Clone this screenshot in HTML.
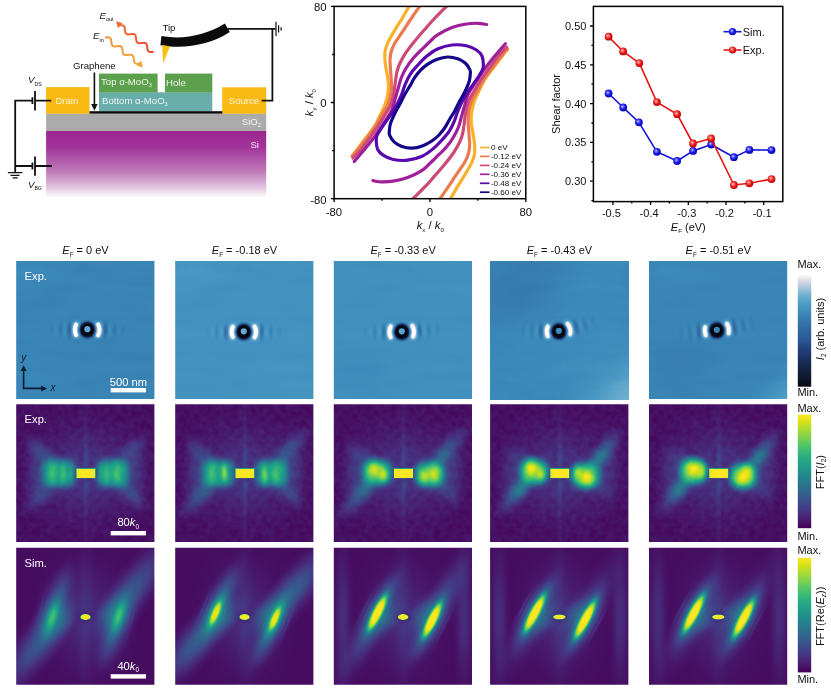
<!DOCTYPE html>
<html lang="en">
<head>
<meta charset="utf-8">
<title>Figure</title>
<style>
html,body{margin:0;padding:0;background:#fff;}
body{width:831px;height:693px;overflow:hidden;}
svg{display:block;font-family:"Liberation Sans",Arial,Helvetica,sans-serif;}
</style>
</head>
<body>
<svg width="831" height="693" viewBox="0 0 831 693">
<rect x="0" y="0" width="831" height="693" fill="#ffffff"/>
<defs>
<linearGradient id="siG" x1="0" y1="0" x2="0" y2="1">
<stop offset="0" stop-color="#9a2590"/><stop offset="0.25" stop-color="#a1349a"/><stop offset="0.6" stop-color="#be78b8"/><stop offset="0.85" stop-color="#e2c4df"/><stop offset="1" stop-color="#ffffff"/>
</linearGradient>
<linearGradient id="einG" gradientUnits="userSpaceOnUse" x1="106" y1="38" x2="142" y2="66">
<stop offset="0" stop-color="#f0953c"/><stop offset="1" stop-color="#f5a83a"/>
</linearGradient>
<linearGradient id="eoutG" gradientUnits="userSpaceOnUse" x1="153" y1="52" x2="117" y2="22">
<stop offset="0" stop-color="#f0432c"/><stop offset="1" stop-color="#f2703a"/>
</linearGradient>
</defs>
<rect x="46.1" y="130.6" width="220.1" height="67" fill="url(#siG)"/>
<rect x="46.1" y="113.4" width="220.1" height="17.4" fill="#ababab"/>
<rect x="46.1" y="87.1" width="43.4" height="26.6" fill="#f8b912"/>
<rect x="222.2" y="87.3" width="44" height="26.4" fill="#f8b912"/>
<rect x="99" y="92.3" width="113.3" height="19" fill="#69adab"/>
<rect x="99" y="73.6" width="58.6" height="18.9" fill="#5c9f4c"/>
<rect x="165" y="73.6" width="47.3" height="18.9" fill="#5c9f4c"/>
<rect x="89.5" y="111.2" width="132.8" height="2.4" fill="#0a0a0a"/>
<path d="M94.4 72.5V106" stroke="#111" stroke-width="1.6" fill="none"/>
<path d="M91.2 104L94.4 110.8L97.6 104Z" fill="#111"/>
<path d="M32.5 100.7H15.2V172.5M15.2 166H32.5M35 100.7H51.3M35 166H52" stroke="#111" stroke-width="1.8" fill="none"/>
<path d="M35 90.9V110.4M35 156.5V175.7" stroke="#111" stroke-width="1.8" fill="none"/>
<path d="M32.4 97.3V103.9M32.4 162.4V169.6" stroke="#111" stroke-width="1.8" fill="none"/>
<path d="M7.9 172.7H22.4M10.5 175.3H19.5M12.6 177.8H17.7" stroke="#111" stroke-width="1.2" fill="none"/>
<path d="M228 28.8H275.6M272.4 28.8V100.7H261.6" stroke="#111" stroke-width="1.8" fill="none"/>
<path d="M276 21.7V36.1M278.6 25.3V32.5M281.1 27.3V30.5" stroke="#111" stroke-width="1.2" fill="none"/>
<path d="M161.4 36.1C184 40 206 35 224.9 23.5L229.8 32.1C210 45 184 49.5 160.4 45.2Z" fill="#0a0a0a"/>
<path d="M162.2 44.8L169.9 46.6L163 63.6Z" fill="#f8c010"/>
<path d="M105.7 37.5L106.5 37.4L107.2 37.3L107.9 37.3L108.5 37.3L109.1 37.5L109.6 37.7L110.1 38.0L110.4 38.4L110.7 38.9L110.9 39.5L111.1 40.1L111.2 40.9L111.3 41.6L111.4 42.4L111.5 43.1L111.6 43.8L111.8 44.4L112.0 45.0L112.3 45.5L112.7 45.8L113.2 46.1L113.7 46.3L114.3 46.4L115.0 46.4L115.7 46.4L116.4 46.3L117.2 46.2L117.9 46.1L118.7 46.0L119.3 46.0L120.0 46.1L120.5 46.2L121.0 46.5L121.4 46.8L121.7 47.2L122.0 47.8L122.2 48.4L122.3 49.1L122.5 49.8L122.6 50.5L122.6 51.3L122.8 52.0L122.9 52.7L123.1 53.3L123.4 53.9L123.7 54.3L124.1 54.6L124.6 54.9L125.1 55.0L125.8 55.1L126.4 55.1L127.2 55.0L127.9 54.9L128.7 54.8L129.4 54.7L130.1 54.7L130.8 54.7L131.4 54.8L131.9 55.0L132.4 55.3L132.8 55.6L133.1 56.1L133.3 56.7L133.5 57.3L133.6 58.0L133.7 58.7L133.8 59.5L133.9 60.2L134.0 61.0L134.2 61.6L134.4 62.2L134.7 62.7L135.0 63.1L135.5 63.4L136.0 63.6L136.6 63.8L137.2 63.8L137.9 63.8L138.6 63.7L139.4 63.6" stroke="url(#einG)" stroke-width="2" fill="none" stroke-linecap="round"/>
<path d="M142.8 67.6L136.6 65.6L141.2 60.6Z" fill="#f5a030"/>
<path d="M152.8 51.8L152.0 51.9L151.3 52.0L150.6 52.0L150.0 51.9L149.4 51.8L148.9 51.6L148.5 51.3L148.1 50.9L147.8 50.4L147.6 49.8L147.5 49.1L147.3 48.4L147.3 47.7L147.2 46.9L147.1 46.2L147.0 45.5L146.8 44.8L146.6 44.3L146.3 43.8L145.9 43.4L145.4 43.1L144.9 42.9L144.3 42.8L143.6 42.8L142.9 42.9L142.2 42.9L141.4 43.0L140.7 43.1L139.9 43.2L139.3 43.2L138.6 43.1L138.1 43.0L137.6 42.7L137.2 42.4L136.9 41.9L136.6 41.4L136.4 40.8L136.3 40.1L136.2 39.4L136.1 38.6L136.0 37.8L135.9 37.1L135.8 36.4L135.6 35.8L135.3 35.3L135.0 34.8L134.6 34.5L134.1 34.2L133.6 34.1L132.9 34.0L132.3 34.0L131.5 34.1L130.8 34.2L130.0 34.3L129.3 34.3L128.6 34.4L127.9 34.4L127.3 34.3L126.8 34.1L126.3 33.8L125.9 33.4L125.6 32.9L125.4 32.4L125.2 31.7L125.1 31.0L125.0 30.3L124.9 29.5L124.9 28.8L124.7 28.1L124.6 27.4L124.4 26.8L124.1 26.3L123.7 25.9L123.3 25.6L122.8 25.4L122.2 25.3L121.6 25.2L120.9 25.2L120.2 25.3L119.4 25.4" stroke="url(#eoutG)" stroke-width="2" fill="none" stroke-linecap="round"/>
<path d="M116.2 21.2L122.6 23.2L117.8 28.2Z" fill="#f26a3a"/>
<text x="73" y="68.7" font-size="9.6" fill="#111" text-anchor="start" >Graphene</text>
<text x="162.4" y="31.4" font-size="9.6" fill="#111" text-anchor="start" >Tip</text>
<text x="99.6" y="18.9" font-size="9.6" fill="#111" text-anchor="start" ><tspan font-style="italic">E</tspan><tspan dy="2.2" font-size="5.5" font-style="normal">out</tspan></text>
<text x="93.1" y="39.4" font-size="9.6" fill="#111" text-anchor="start" ><tspan font-style="italic">E</tspan><tspan dy="2.2" font-size="5.5" font-style="normal">in</tspan></text>
<text x="28" y="83" font-size="9.6" fill="#111" text-anchor="start" ><tspan font-style="italic">V</tspan><tspan dy="2.6" font-size="5.2" font-style="normal">DS</tspan></text>
<text x="28" y="187.8" font-size="9.6" fill="#111" text-anchor="start" ><tspan font-style="italic">V</tspan><tspan dy="2.6" font-size="5.2" font-style="normal">BG</tspan></text>
<text x="55.4" y="103.8" font-size="9.6" fill="#fdf6dc" text-anchor="start" >Drain</text>
<text x="228.8" y="104" font-size="9.6" fill="#fdf6dc" text-anchor="start" >Source</text>
<text x="101" y="84.8" font-size="9.6" fill="#eef5ea" text-anchor="start" >Top α-MoO<tspan dy="2.2" font-size="5.5" font-style="normal">3</tspan></text>
<text x="166" y="86" font-size="9.6" fill="#eef5ea" text-anchor="start" >Hole</text>
<text x="102" y="103.6" font-size="9.6" fill="#eaf4f4" text-anchor="start" >Bottom α-MoO<tspan dy="2.2" font-size="5.5" font-style="normal">3</tspan></text>
<text x="241.8" y="124.6" font-size="9.6" fill="#f0f0f0" text-anchor="start" >SiO<tspan dy="2.2" font-size="5.5" font-style="normal">2</tspan></text>
<text x="250.4" y="148.4" font-size="9.6" fill="#f6e6f4" text-anchor="start" >Si</text>
<defs><clipPath id="cpC"><rect x="334.1" y="6.4" width="191.69999999999993" height="192.29999999999998"/></clipPath></defs>
<rect x="334.1" y="6.4" width="191.69999999999993" height="192.29999999999998" fill="#fff"/>
<g clip-path="url(#cpC)" fill="none" stroke-width="3.2" stroke-linecap="round" stroke-linejoin="round">
<path d="M410.5 4.0C410.0 4.8 409.1 6.4 407.6 8.9C406.2 11.4 404.0 15.4 401.8 19.0C399.6 22.6 396.9 26.6 394.6 30.5C392.3 34.4 389.7 38.7 388.1 42.1C386.5 45.5 385.7 47.6 385.2 50.7C384.7 53.8 384.8 57.4 385.0 60.8C385.2 64.2 385.9 67.3 386.5 70.9C387.1 74.5 388.1 78.9 388.3 82.5C388.6 86.1 388.5 89.0 388.0 92.6C387.5 96.2 386.4 100.6 385.2 104.1C384.0 107.6 382.8 109.7 381.0 113.4C379.2 117.1 376.9 122.3 374.4 126.4C371.8 130.5 368.6 134.2 365.7 138.0C362.8 141.8 359.4 146.5 357.1 149.5C354.8 152.5 352.9 154.9 352.0 156.0" stroke="#fbb02b"/>
<path d="M449.1 201.2C449.6 200.4 450.6 198.8 452.0 196.3C453.4 193.8 455.6 189.8 457.8 186.2C460.0 182.6 462.7 178.5 465.0 174.7C467.3 170.8 469.9 166.5 471.5 163.1C473.1 159.7 473.9 157.6 474.4 154.5C474.9 151.4 474.8 147.8 474.6 144.4C474.4 141.0 473.7 137.9 473.1 134.3C472.6 130.7 471.6 126.3 471.3 122.7C471.1 119.1 471.1 116.2 471.6 112.6C472.1 109.0 473.2 104.6 474.4 101.1C475.6 97.6 476.8 95.5 478.6 91.8C480.4 88.1 482.7 82.9 485.2 78.8C487.8 74.7 491.0 71.0 493.9 67.2C496.8 63.3 500.2 58.7 502.5 55.7C504.8 52.7 506.8 50.3 507.6 49.2" stroke="#fbb02b"/>
<path d="M421.3 4.0C420.8 4.7 420.0 5.9 418.4 8.2C416.8 10.4 414.4 13.8 411.9 17.5C409.4 21.2 406.2 26.2 403.3 30.5C400.4 34.8 396.7 39.9 394.6 43.5C392.6 47.1 391.8 49.3 391.0 52.2C390.2 55.1 390.1 57.7 390.0 60.8C389.9 63.9 390.4 67.3 390.6 70.9C390.8 74.5 391.3 78.9 391.4 82.5C391.5 86.1 391.6 89.0 391.0 92.6C390.4 96.2 389.5 100.6 388.1 104.1C386.7 107.6 384.8 109.8 382.7 113.4C380.6 117.1 378.2 121.9 375.6 126.0C373.0 130.1 369.9 134.1 367.0 138.0C364.1 141.9 360.4 146.4 358.0 149.5C355.6 152.6 353.2 155.2 352.3 156.3" stroke="#ec7a4f"/>
<path d="M438.3 201.2C438.8 200.5 439.6 199.2 441.2 197.0C442.8 194.8 445.2 191.4 447.7 187.7C450.2 184.0 453.4 179.0 456.3 174.7C459.2 170.4 462.9 165.3 465.0 161.7C467.1 158.1 467.8 155.9 468.6 153.0C469.4 150.1 469.5 147.5 469.6 144.4C469.7 141.3 469.2 137.9 469.0 134.3C468.8 130.7 468.3 126.3 468.2 122.7C468.1 119.1 468.1 116.2 468.6 112.6C469.2 109.0 470.1 104.6 471.5 101.1C472.9 97.6 474.8 95.4 476.9 91.8C479.0 88.1 481.4 83.3 484.0 79.2C486.6 75.1 489.7 71.1 492.6 67.2C495.5 63.3 499.2 58.7 501.6 55.7C504.1 52.6 506.4 50.0 507.3 48.9" stroke="#ec7a4f"/>
<path d="M449.0 4.0C448.3 4.7 447.3 5.7 444.8 8.2C442.3 10.7 437.1 15.8 434.0 19.0C430.9 22.2 429.3 24.2 426.4 27.6C423.4 31.0 419.7 35.1 416.3 39.2C412.9 43.3 409.0 48.1 406.2 52.2C403.4 56.3 401.3 60.3 399.7 63.7C398.1 67.1 397.5 69.3 396.8 72.4C396.1 75.5 395.8 79.1 395.3 82.5C394.8 85.9 394.6 89.0 393.9 92.6C393.2 96.2 392.4 100.5 391.0 104.1C389.6 107.7 387.6 110.4 385.5 114.0C383.4 117.6 381.1 121.6 378.5 125.5C375.9 129.4 372.9 133.5 370.0 137.5C367.1 141.5 363.8 146.1 361.0 149.5C358.2 152.9 354.3 156.6 353.0 158.0" stroke="#cb4a78"/>
<path d="M410.6 201.2C411.3 200.5 412.3 199.5 414.8 197.0C417.3 194.5 422.5 189.4 425.6 186.2C428.7 183.0 430.3 181.0 433.2 177.6C436.2 174.2 439.9 170.1 443.3 166.0C446.7 161.9 450.6 157.1 453.4 153.0C456.2 148.9 458.3 144.9 459.9 141.5C461.5 138.1 462.1 135.9 462.8 132.8C463.5 129.7 463.8 126.1 464.3 122.7C464.8 119.3 465.0 116.2 465.7 112.6C466.4 109.0 467.2 104.7 468.6 101.1C470.0 97.5 472.0 94.8 474.1 91.2C476.2 87.6 478.5 83.6 481.1 79.7C483.7 75.8 486.7 71.7 489.6 67.7C492.5 63.7 495.8 59.1 498.6 55.7C501.4 52.3 505.3 48.6 506.6 47.2" stroke="#cb4a78"/>
<path d="M486.6 24.5C485.2 24.3 481.4 23.4 478.0 23.3C474.6 23.2 470.7 23.3 466.4 24.0C462.1 24.7 456.8 25.8 452.0 27.6C447.2 29.4 441.2 32.6 437.5 34.9C433.8 37.2 432.3 39.4 430.0 41.5C427.7 43.6 426.3 45.0 423.5 47.8C420.7 50.5 416.3 54.6 413.4 58.0C410.5 61.4 408.2 64.6 406.2 68.0C404.1 71.4 402.4 74.8 401.1 78.2C399.8 81.6 399.2 84.9 398.2 88.3C397.2 91.7 396.4 94.7 395.3 98.4C394.2 102.1 393.5 106.5 391.7 110.5C389.9 114.5 387.1 118.0 384.5 122.1C381.9 126.2 378.9 130.8 375.8 135.1C372.7 139.4 369.3 143.7 365.7 148.1C362.1 152.5 356.1 159.3 354.2 161.5" stroke="#a01f9a"/>
<path d="M373.0 180.7C374.4 180.9 378.2 181.8 381.6 181.9C385.0 182.0 388.9 181.9 393.2 181.2C397.5 180.5 402.8 179.4 407.6 177.6C412.4 175.8 418.4 172.6 422.1 170.3C425.8 168.0 427.3 165.8 429.6 163.7C431.9 161.5 433.3 160.1 436.1 157.4C438.9 154.6 443.3 150.6 446.2 147.2C449.1 143.8 451.4 140.6 453.4 137.2C455.5 133.8 457.2 130.4 458.5 127.0C459.8 123.6 460.4 120.3 461.4 116.9C462.4 113.5 463.2 110.5 464.3 106.8C465.4 103.1 466.1 98.6 467.9 94.7C469.7 90.7 472.5 87.2 475.1 83.1C477.8 79.0 480.7 74.4 483.8 70.1C486.9 65.8 490.3 61.5 493.9 57.1C497.5 52.7 503.5 45.9 505.4 43.7" stroke="#a01f9a"/>
<path d="M376.2 141.0C376.1 138.7 376.1 137.7 377.0 135.5C377.9 133.3 379.9 130.5 381.6 127.9C383.3 125.3 385.3 122.4 387.0 120.0C388.7 117.6 390.0 116.0 391.7 113.4C393.4 110.8 395.3 107.7 397.0 104.5C398.7 101.3 400.4 97.4 401.8 94.0C403.2 90.6 403.9 87.3 405.4 83.9C406.8 80.5 408.4 76.9 410.5 73.8C412.6 70.7 415.1 68.1 417.7 65.2C420.3 62.3 423.1 59.2 426.4 56.5C429.7 53.8 433.2 50.9 437.5 49.0C441.8 47.1 447.2 45.5 452.0 45.0C456.8 44.5 462.3 44.9 466.4 45.7C470.5 46.5 473.9 48.3 476.5 50.0C479.1 51.7 480.9 53.6 482.0 56.0C483.1 58.4 483.3 61.9 483.4 64.2C483.5 66.5 483.5 67.5 482.6 69.7C481.7 71.9 479.7 74.7 478.0 77.3C476.3 79.9 474.3 82.8 472.6 85.2C470.9 87.6 469.6 89.2 467.9 91.8C466.2 94.4 464.3 97.5 462.6 100.7C460.9 103.9 459.2 107.8 457.8 111.2C456.4 114.6 455.7 117.9 454.2 121.3C452.8 124.7 451.2 128.3 449.1 131.4C447.1 134.5 444.6 137.1 441.9 140.0C439.3 142.9 436.5 146.0 433.2 148.7C429.9 151.4 426.4 154.3 422.1 156.2C417.8 158.1 412.4 159.6 407.6 160.2C402.8 160.8 397.3 160.3 393.2 159.5C389.1 158.7 385.7 156.9 383.1 155.2C380.5 153.5 378.8 151.6 377.6 149.2C376.5 146.8 376.3 143.3 376.2 141.0Z" stroke="#5a07ae"/>
<path d="M389.4 130.5C389.5 128.6 389.5 126.6 390.5 123.5C391.5 120.4 393.8 115.4 395.5 112.0C397.2 108.6 398.9 106.0 400.5 103.0C402.1 100.0 403.4 96.8 405.0 94.0C406.6 91.2 408.2 88.8 409.8 86.2C411.4 83.6 412.5 80.9 414.3 78.2C416.1 75.5 418.4 72.5 420.6 70.2C422.9 67.9 425.1 66.0 427.8 64.2C430.5 62.4 433.3 60.7 436.6 59.5C439.9 58.3 444.1 57.1 447.6 57.0C451.1 56.9 454.7 57.7 457.7 58.7C460.7 59.8 463.4 61.4 465.5 63.3C467.6 65.2 469.2 68.1 470.0 70.0C470.8 71.9 470.4 72.7 470.2 74.7C470.1 76.6 470.1 78.6 469.1 81.7C468.1 84.8 465.8 89.8 464.1 93.2C462.4 96.6 460.7 99.2 459.1 102.2C457.5 105.2 456.2 108.4 454.6 111.2C453.1 114.0 451.4 116.4 449.8 119.0C448.2 121.6 447.1 124.3 445.3 127.0C443.5 129.7 441.2 132.7 439.0 135.0C436.8 137.3 434.5 139.2 431.8 141.0C429.1 142.8 426.3 144.5 423.0 145.7C419.7 146.9 415.5 148.1 412.0 148.2C408.5 148.3 404.9 147.6 401.9 146.5C398.9 145.4 396.2 143.8 394.1 141.9C392.1 140.0 390.4 137.1 389.6 135.2C388.8 133.3 389.2 132.4 389.4 130.5Z" stroke="#14068a"/>
</g>
<rect x="334.1" y="6.4" width="191.69999999999993" height="192.29999999999998" fill="none" stroke="#000" stroke-width="1.5"/>
<path d="M334.1 198.7v3.2M334.1 6.4h-3.2M382.0 198.7v2.0M334.1 54.5h-2.0M429.9 198.7v3.2M334.1 102.5h-3.2M477.9 198.7v2.0M334.1 150.6h-2.0M525.8 198.7v3.2M334.1 198.7h-3.2" stroke="#000" stroke-width="1.3" fill="none"/>
<text x="333.8" y="215.9" font-size="11.3" fill="#111" text-anchor="middle" >-80</text>
<text x="429.8" y="215.9" font-size="11.3" fill="#111" text-anchor="middle" >0</text>
<text x="525.8" y="215.9" font-size="11.3" fill="#111" text-anchor="middle" >80</text>
<text x="326.6" y="10.9" font-size="11.3" fill="#111" text-anchor="end" >80</text>
<text x="326.6" y="106.7" font-size="11.3" fill="#111" text-anchor="end" >0</text>
<text x="326.6" y="203.5" font-size="11.3" fill="#111" text-anchor="end" >-80</text>
<text x="430.3" y="229.4" font-size="11.3" fill="#111" text-anchor="middle" ><tspan font-style="italic">k</tspan><tspan dy="2.4" font-size="6.2">x</tspan><tspan dy="-2.4"> / </tspan><tspan font-style="italic">k</tspan><tspan dy="2.4" font-size="6.2">0</tspan></text>
<text transform="translate(313.2 102.6) rotate(-90)" font-size="11.3" fill="#111" text-anchor="middle"><tspan font-style="italic">k</tspan><tspan dy="2.4" font-size="6.2">y</tspan><tspan dy="-2.4"> / </tspan><tspan font-style="italic">k</tspan><tspan dy="2.4" font-size="6.2">0</tspan></text>
<path d="M479.9 147.5H489.5" stroke="#fbb02b" stroke-width="1.7" fill="none"/>
<text x="490.9" y="150.4" font-size="8.1" fill="#111">0 eV</text>
<path d="M479.9 156.4H489.5" stroke="#ec7a4f" stroke-width="1.7" fill="none"/>
<text x="490.9" y="159.3" font-size="8.1" fill="#111">-0.12 eV</text>
<path d="M479.9 165.4H489.5" stroke="#cb4a78" stroke-width="1.7" fill="none"/>
<text x="490.9" y="168.3" font-size="8.1" fill="#111">-0.24 eV</text>
<path d="M479.9 174.3H489.5" stroke="#a01f9a" stroke-width="1.7" fill="none"/>
<text x="490.9" y="177.2" font-size="8.1" fill="#111">-0.36 eV</text>
<path d="M479.9 183.3H489.5" stroke="#5a07ae" stroke-width="1.7" fill="none"/>
<text x="490.9" y="186.2" font-size="8.1" fill="#111">-0.48 eV</text>
<path d="M479.9 192.2H489.5" stroke="#14068a" stroke-width="1.7" fill="none"/>
<text x="490.9" y="195.1" font-size="8.1" fill="#111">-0.60 eV</text>
<defs>
<radialGradient id="sphB" cx="0.42" cy="0.40" r="0.62" fx="0.40" fy="0.38">
<stop offset="0" stop-color="#d0d0ff"/><stop offset="0.25" stop-color="#6060f4"/><stop offset="0.6" stop-color="#1212e6"/><stop offset="1" stop-color="#0808b0"/>
</radialGradient>
<radialGradient id="sphR" cx="0.42" cy="0.40" r="0.62" fx="0.40" fy="0.38">
<stop offset="0" stop-color="#ffd4d4"/><stop offset="0.25" stop-color="#f86868"/><stop offset="0.6" stop-color="#ea1414"/><stop offset="1" stop-color="#b00808"/>
</radialGradient>
</defs>
<rect x="593.4" y="6.4" width="189.39999999999998" height="195.2" fill="#fff" stroke="#000" stroke-width="1.5"/>
<path d="M612.9 201.6v3.4M631.8 201.6v2.0M650.6 201.6v3.4M669.4 201.6v2.0M688.3 201.6v3.4M707.1 201.6v2.0M726.0 201.6v3.4M744.9 201.6v2.0M763.7 201.6v3.4M593.4 26.0h-3.4M593.4 45.4h-2.0M593.4 64.8h-3.4M593.4 84.2h-2.0M593.4 103.6h-3.4M593.4 123.0h-2.0M593.4 142.4h-3.4M593.4 161.8h-2.0M593.4 181.2h-3.4M593.4 200.6h-2.0" stroke="#000" stroke-width="1.3" fill="none"/>
<path d="M608.6 93.5L623.2 107.5L638.9 122.3L656.9 151.8L677.1 161.0L693.1 150.9L711.2 144.5L733.9 157.2L749.4 149.9L771.5 150.1" stroke="#1414dc" stroke-width="1.6" fill="none" stroke-linejoin="round"/>
<circle cx="608.6" cy="93.5" r="3.9" fill="url(#sphB)"/>
<circle cx="623.2" cy="107.5" r="3.9" fill="url(#sphB)"/>
<circle cx="638.9" cy="122.3" r="3.9" fill="url(#sphB)"/>
<circle cx="656.9" cy="151.8" r="3.9" fill="url(#sphB)"/>
<circle cx="677.1" cy="161.0" r="3.9" fill="url(#sphB)"/>
<circle cx="693.1" cy="150.9" r="3.9" fill="url(#sphB)"/>
<circle cx="711.2" cy="144.5" r="3.9" fill="url(#sphB)"/>
<circle cx="733.9" cy="157.2" r="3.9" fill="url(#sphB)"/>
<circle cx="749.4" cy="149.9" r="3.9" fill="url(#sphB)"/>
<circle cx="771.5" cy="150.1" r="3.9" fill="url(#sphB)"/>
<path d="M608.6 36.7L623.1 51.4L639.3 63.1L656.9 102.1L677.1 114.2L693.0 143.5L711.1 138.4L733.9 185.0L749.4 183.3L771.5 179.1" stroke="#e61414" stroke-width="1.6" fill="none" stroke-linejoin="round"/>
<circle cx="608.6" cy="36.7" r="3.9" fill="url(#sphR)"/>
<circle cx="623.1" cy="51.4" r="3.9" fill="url(#sphR)"/>
<circle cx="639.3" cy="63.1" r="3.9" fill="url(#sphR)"/>
<circle cx="656.9" cy="102.1" r="3.9" fill="url(#sphR)"/>
<circle cx="677.1" cy="114.2" r="3.9" fill="url(#sphR)"/>
<circle cx="693.0" cy="143.5" r="3.9" fill="url(#sphR)"/>
<circle cx="711.1" cy="138.4" r="3.9" fill="url(#sphR)"/>
<circle cx="733.9" cy="185.0" r="3.9" fill="url(#sphR)"/>
<circle cx="749.4" cy="183.3" r="3.9" fill="url(#sphR)"/>
<circle cx="771.5" cy="179.1" r="3.9" fill="url(#sphR)"/>
<path d="M723.5 31.7H741.5" stroke="#1414dc" stroke-width="1.6"/>
<circle cx="732.5" cy="31.7" r="3.6" fill="url(#sphB)"/>
<text x="742.7" y="35.5" font-size="11" fill="#111">Sim.</text>
<path d="M723.5 50.0H741.5" stroke="#e61414" stroke-width="1.6"/>
<circle cx="732.5" cy="50.0" r="3.6" fill="url(#sphR)"/>
<text x="742.7" y="53.8" font-size="11" fill="#111">Exp.</text>
<text x="611.4" y="217.4" font-size="11" fill="#111" text-anchor="middle">-0.5</text>
<text x="649.1" y="217.4" font-size="11" fill="#111" text-anchor="middle">-0.4</text>
<text x="686.8" y="217.4" font-size="11" fill="#111" text-anchor="middle">-0.3</text>
<text x="724.5" y="217.4" font-size="11" fill="#111" text-anchor="middle">-0.2</text>
<text x="762.2" y="217.4" font-size="11" fill="#111" text-anchor="middle">-0.1</text>
<text x="586.4" y="29.9" font-size="11" fill="#111" text-anchor="end">0.50</text>
<text x="586.4" y="68.7" font-size="11" fill="#111" text-anchor="end">0.45</text>
<text x="586.4" y="107.5" font-size="11" fill="#111" text-anchor="end">0.40</text>
<text x="586.4" y="146.29999999999998" font-size="11" fill="#111" text-anchor="end">0.35</text>
<text x="586.4" y="185.1" font-size="11" fill="#111" text-anchor="end">0.30</text>
<text x="688.3" y="231" font-size="11" fill="#111" text-anchor="middle"><tspan font-style="italic">E</tspan><tspan dy="2.4" font-size="6.2">F</tspan><tspan dy="-2.4"> (eV)</tspan></text>
<text transform="translate(560.4 104) rotate(-90)" font-size="11" fill="#111" text-anchor="middle">Shear factor</text>
<defs>
<filter id="cmV" filterUnits="userSpaceOnUse" x="0" y="0" width="139" height="139" color-interpolation-filters="sRGB"><feComponentTransfer><feFuncR type="table" tableValues="0.267 0.277 0.282 0.283 0.279 0.271 0.259 0.245 0.230 0.214 0.199 0.186 0.173 0.161 0.149 0.138 0.128 0.121 0.121 0.132 0.158 0.197 0.246 0.304 0.369 0.440 0.516 0.596 0.678 0.762 0.846 0.926 0.993"/><feFuncG type="table" tableValues="0.005 0.050 0.095 0.136 0.175 0.214 0.252 0.288 0.322 0.356 0.388 0.419 0.449 0.479 0.508 0.537 0.567 0.596 0.626 0.655 0.684 0.712 0.739 0.765 0.789 0.811 0.831 0.849 0.864 0.876 0.887 0.897 0.906"/><feFuncB type="table" tableValues="0.329 0.376 0.417 0.453 0.483 0.507 0.525 0.537 0.546 0.551 0.555 0.557 0.558 0.558 0.557 0.555 0.551 0.544 0.533 0.520 0.502 0.479 0.452 0.420 0.383 0.341 0.294 0.243 0.190 0.137 0.100 0.104 0.144"/></feComponentTransfer></filter>
<filter id="cmVn" filterUnits="userSpaceOnUse" x="0" y="0" width="139" height="139" color-interpolation-filters="sRGB"><feTurbulence type="fractalNoise" baseFrequency="0.16" numOctaves="2" seed="7" result="n"/><feColorMatrix in="n" type="matrix" values="0.085 0 0 0 0 0.085 0 0 0 0 0.085 0 0 0 0 0 0 0 0 1" result="ng"/><feComposite in="SourceGraphic" in2="ng" operator="arithmetic" k1="0" k2="1" k3="1" k4="-0.043"/><feComponentTransfer><feFuncR type="table" tableValues="0.267 0.277 0.282 0.283 0.279 0.271 0.259 0.245 0.230 0.214 0.199 0.186 0.173 0.161 0.149 0.138 0.128 0.121 0.121 0.132 0.158 0.197 0.246 0.304 0.369 0.440 0.516 0.596 0.678 0.762 0.846 0.926 0.993"/><feFuncG type="table" tableValues="0.005 0.050 0.095 0.136 0.175 0.214 0.252 0.288 0.322 0.356 0.388 0.419 0.449 0.479 0.508 0.537 0.567 0.596 0.626 0.655 0.684 0.712 0.739 0.765 0.789 0.811 0.831 0.849 0.864 0.876 0.887 0.897 0.906"/><feFuncB type="table" tableValues="0.329 0.376 0.417 0.453 0.483 0.507 0.525 0.537 0.546 0.551 0.555 0.557 0.558 0.558 0.557 0.555 0.551 0.544 0.533 0.520 0.502 0.479 0.452 0.420 0.383 0.341 0.294 0.243 0.190 0.137 0.100 0.104 0.144"/></feComponentTransfer></filter>
<filter id="cmI" filterUnits="userSpaceOnUse" x="0" y="0" width="139" height="139" color-interpolation-filters="sRGB"><feTurbulence type="fractalNoise" baseFrequency="0.02 0.09" numOctaves="2" seed="3" result="n"/><feColorMatrix in="n" type="matrix" values="0.035 0 0 0 0 0.035 0 0 0 0 0.035 0 0 0 0 0 0 0 0 1" result="ng"/><feComposite in="SourceGraphic" in2="ng" operator="arithmetic" k1="0" k2="1" k3="1" k4="-0.018"/><feComponentTransfer><feFuncR type="table" tableValues="0.020 0.034 0.048 0.059 0.070 0.080 0.090 0.099 0.109 0.118 0.128 0.138 0.149 0.160 0.169 0.177 0.184 0.193 0.202 0.211 0.220 0.232 0.257 0.281 0.326 0.383 0.443 0.545 0.646 0.747 0.847 0.926 1.000"/><feFuncG type="table" tableValues="0.031 0.056 0.080 0.099 0.118 0.137 0.155 0.172 0.191 0.213 0.235 0.262 0.296 0.330 0.359 0.383 0.408 0.429 0.450 0.478 0.509 0.539 0.566 0.594 0.625 0.657 0.689 0.726 0.763 0.805 0.848 0.912 1.000"/><feFuncB type="table" tableValues="0.063 0.108 0.152 0.190 0.228 0.266 0.305 0.343 0.381 0.419 0.457 0.495 0.533 0.571 0.597 0.612 0.627 0.641 0.655 0.677 0.702 0.725 0.744 0.762 0.780 0.799 0.817 0.838 0.859 0.876 0.893 0.933 1.000"/></feComponentTransfer></filter>
<radialGradient id="gW"><stop offset="0.000" stop-color="#fff" stop-opacity="1.000"/><stop offset="0.083" stop-color="#fff" stop-opacity="0.976"/><stop offset="0.167" stop-color="#fff" stop-opacity="0.907"/><stop offset="0.250" stop-color="#fff" stop-opacity="0.803"/><stop offset="0.333" stop-color="#fff" stop-opacity="0.676"/><stop offset="0.417" stop-color="#fff" stop-opacity="0.540"/><stop offset="0.500" stop-color="#fff" stop-opacity="0.409"/><stop offset="0.583" stop-color="#fff" stop-opacity="0.293"/><stop offset="0.667" stop-color="#fff" stop-opacity="0.195"/><stop offset="0.750" stop-color="#fff" stop-opacity="0.119"/><stop offset="0.833" stop-color="#fff" stop-opacity="0.064"/><stop offset="0.917" stop-color="#fff" stop-opacity="0.025"/><stop offset="1.000" stop-color="#fff" stop-opacity="0.000"/></radialGradient>
<radialGradient id="gK"><stop offset="0.000" stop-color="#000" stop-opacity="1.000"/><stop offset="0.083" stop-color="#000" stop-opacity="0.976"/><stop offset="0.167" stop-color="#000" stop-opacity="0.907"/><stop offset="0.250" stop-color="#000" stop-opacity="0.803"/><stop offset="0.333" stop-color="#000" stop-opacity="0.676"/><stop offset="0.417" stop-color="#000" stop-opacity="0.540"/><stop offset="0.500" stop-color="#000" stop-opacity="0.409"/><stop offset="0.583" stop-color="#000" stop-opacity="0.293"/><stop offset="0.667" stop-color="#000" stop-opacity="0.195"/><stop offset="0.750" stop-color="#000" stop-opacity="0.119"/><stop offset="0.833" stop-color="#000" stop-opacity="0.064"/><stop offset="0.917" stop-color="#000" stop-opacity="0.025"/><stop offset="1.000" stop-color="#000" stop-opacity="0.000"/></radialGradient>
<radialGradient id="gWp"><stop offset="0.000" stop-color="#fff" stop-opacity="1.000"/><stop offset="0.083" stop-color="#fff" stop-opacity="1.000"/><stop offset="0.167" stop-color="#fff" stop-opacity="1.000"/><stop offset="0.250" stop-color="#fff" stop-opacity="1.000"/><stop offset="0.333" stop-color="#fff" stop-opacity="1.000"/><stop offset="0.417" stop-color="#fff" stop-opacity="0.964"/><stop offset="0.500" stop-color="#fff" stop-opacity="0.829"/><stop offset="0.583" stop-color="#fff" stop-opacity="0.634"/><stop offset="0.667" stop-color="#fff" stop-opacity="0.429"/><stop offset="0.750" stop-color="#fff" stop-opacity="0.253"/><stop offset="0.833" stop-color="#fff" stop-opacity="0.124"/><stop offset="0.917" stop-color="#fff" stop-opacity="0.044"/><stop offset="1.000" stop-color="#fff" stop-opacity="0.000"/></radialGradient>
<filter id="b0_6" filterUnits="userSpaceOnUse" x="-30" y="-30" width="200" height="200" color-interpolation-filters="sRGB"><feGaussianBlur stdDeviation="0.6"/></filter>
<filter id="b1" filterUnits="userSpaceOnUse" x="-30" y="-30" width="200" height="200" color-interpolation-filters="sRGB"><feGaussianBlur stdDeviation="1"/></filter>
<filter id="b1_5" filterUnits="userSpaceOnUse" x="-30" y="-30" width="200" height="200" color-interpolation-filters="sRGB"><feGaussianBlur stdDeviation="1.5"/></filter>
<filter id="b2" filterUnits="userSpaceOnUse" x="-30" y="-30" width="200" height="200" color-interpolation-filters="sRGB"><feGaussianBlur stdDeviation="2"/></filter>
<filter id="b3" filterUnits="userSpaceOnUse" x="-30" y="-30" width="200" height="200" color-interpolation-filters="sRGB"><feGaussianBlur stdDeviation="3"/></filter>
<filter id="b5" filterUnits="userSpaceOnUse" x="-30" y="-30" width="200" height="200" color-interpolation-filters="sRGB"><feGaussianBlur stdDeviation="5"/></filter>
<filter id="b8" filterUnits="userSpaceOnUse" x="-30" y="-30" width="200" height="200" color-interpolation-filters="sRGB"><feGaussianBlur stdDeviation="8"/></filter>
</defs>
<clipPath id="cp00"><rect x="16.2" y="261.0" width="138.2" height="138.1"/></clipPath><g clip-path="url(#cp00)"><g transform="translate(16.2 261.0)" filter="url(#cmI)"><rect x="-1" y="-1" width="141" height="141" fill="#a2a2a2"/><ellipse cx="10.0" cy="10.0" rx="104.0" ry="31.2" fill="url(#gW)" opacity="0.050" transform="rotate(-25.0 10.0 10.0)"/><ellipse cx="20.0" cy="120.0" rx="65.0" ry="39.0" fill="url(#gW)" opacity="0.040" transform="rotate(20.0 20.0 120.0)"/><ellipse cx="71.2" cy="68.8" rx="19.5" ry="14.3" fill="url(#gW)" opacity="0.300"/><g transform="rotate(0.0 71.2 68.8)"><ellipse cx="53.4" cy="68.8" rx="3.9" ry="12.5" fill="url(#gK)" opacity="0.240"/><ellipse cx="48.7" cy="68.8" rx="3.4" ry="12.5" fill="url(#gW)" opacity="0.120"/><ellipse cx="44.2" cy="68.8" rx="3.1" ry="12.5" fill="url(#gK)" opacity="0.090"/><ellipse cx="39.7" cy="68.8" rx="3.1" ry="11.7" fill="url(#gW)" opacity="0.060"/><ellipse cx="35.2" cy="68.8" rx="3.1" ry="11.7" fill="url(#gK)" opacity="0.040"/></g><g transform="rotate(0.0 71.2 68.8)"><ellipse cx="89.0" cy="68.8" rx="3.9" ry="12.5" fill="url(#gK)" opacity="0.240"/><ellipse cx="93.7" cy="68.8" rx="3.4" ry="12.5" fill="url(#gW)" opacity="0.120"/><ellipse cx="98.2" cy="68.8" rx="3.1" ry="12.5" fill="url(#gK)" opacity="0.090"/><ellipse cx="102.7" cy="68.8" rx="3.1" ry="11.7" fill="url(#gW)" opacity="0.060"/><ellipse cx="107.2" cy="68.8" rx="3.1" ry="11.7" fill="url(#gK)" opacity="0.040"/></g><circle cx="71.2" cy="68.8" r="7.8" fill="#000" filter="url(#b1_5)"/><circle cx="71.2" cy="68.8" r="6.6" fill="#000" filter="url(#b1)"/><g transform="rotate(0.0 71.2 68.8)"><path d="M59.9 63.6A12.4 12.4 0 0 0 59.9 74.1" stroke="#fff" stroke-width="5.6" fill="none" stroke-linecap="round" opacity="0.9" filter="url(#b1_5)"/><path d="M59.9 63.6A12.4 12.4 0 0 0 59.9 74.1" stroke="#fff" stroke-width="3.8" fill="none" stroke-linecap="round" filter="url(#b0_6)"/></g><g transform="rotate(0.0 71.2 68.8)"><path d="M81.9 63.4A12.1 12.1 0 0 1 81.9 74.3" stroke="#fff" stroke-width="5.6" fill="none" stroke-linecap="round" opacity="0.9" filter="url(#b1_5)"/><path d="M81.9 63.4A12.1 12.1 0 0 1 81.9 74.3" stroke="#fff" stroke-width="3.8" fill="none" stroke-linecap="round" filter="url(#b0_6)"/></g><circle cx="71.2" cy="68.2" r="3.1" fill="#c9c9c9" filter="url(#b0_6)"/></g></g>
<clipPath id="cp10"><rect x="16.2" y="404.3" width="138.2" height="137.6"/></clipPath><g clip-path="url(#cp10)"><g transform="translate(16.2 404.3)" filter="url(#cmVn)"><rect x="-1" y="-1" width="141" height="141" fill="#0a0a0a"/><ellipse cx="69.7" cy="69.0" rx="88.4" ry="72.8" fill="url(#gW)" opacity="0.120"/><ellipse cx="69.7" cy="69.0" rx="4.7" ry="104.0" fill="url(#gW)" opacity="0.070"/><path d="M53.7 69.0L15.7 37.0L13.7 101.0Z" fill="#fff" opacity="0.110" filter="url(#b5)"/><path d="M85.7 69.0L123.7 101.0L125.7 37.0Z" fill="#fff" opacity="0.110" filter="url(#b5)"/><ellipse cx="24.7" cy="46.0" rx="13.0" ry="31.2" fill="url(#gW)" opacity="0.100" transform="rotate(-52.0 24.7 46.0)"/><ellipse cx="24.7" cy="94.0" rx="13.0" ry="31.2" fill="url(#gW)" opacity="0.100" transform="rotate(52.0 24.7 94.0)"/><ellipse cx="114.7" cy="44.0" rx="13.0" ry="31.2" fill="url(#gW)" opacity="0.100" transform="rotate(52.0 114.7 44.0)"/><ellipse cx="114.7" cy="92.0" rx="13.0" ry="31.2" fill="url(#gW)" opacity="0.100" transform="rotate(-52.0 114.7 92.0)"/><rect x="26.7" y="56.0" width="31.5" height="26.0" rx="6" fill="#fff" opacity="0.460" filter="url(#b3)"/><rect x="81.2" y="56.0" width="30.5" height="26.0" rx="6" fill="#fff" opacity="0.460" filter="url(#b3)"/><ellipse cx="36.2" cy="68.0" rx="7.8" ry="18.2" fill="url(#gW)" opacity="0.300"/><ellipse cx="47.2" cy="70.0" rx="6.2" ry="16.9" fill="url(#gW)" opacity="0.280"/><ellipse cx="54.7" cy="69.0" rx="4.2" ry="13.0" fill="url(#gW)" opacity="0.200"/><ellipse cx="90.2" cy="70.0" rx="6.2" ry="16.9" fill="url(#gW)" opacity="0.280"/><ellipse cx="100.7" cy="69.0" rx="8.3" ry="18.2" fill="url(#gW)" opacity="0.300"/><ellipse cx="84.2" cy="69.0" rx="4.2" ry="13.0" fill="url(#gW)" opacity="0.200"/><ellipse cx="69.7" cy="69.0" rx="13.0" ry="10.9" fill="url(#gK)" opacity="0.350"/><rect x="60.2" y="64.2" width="19" height="9.6" fill="#fff"/></g></g>
<clipPath id="cp20"><rect x="16.2" y="547.7" width="138.2" height="137.1"/></clipPath><g clip-path="url(#cp20)"><g transform="translate(16.2 547.7)" filter="url(#cmV)"><rect x="-1" y="-1" width="141" height="141" fill="#080808"/><ellipse cx="69.3" cy="69.3" rx="57.2" ry="88.4" fill="url(#gW)" opacity="0.080"/><ellipse cx="69.3" cy="69.3" rx="13.0" ry="117.0" fill="url(#gW)" opacity="0.050"/><ellipse cx="14.8" cy="103.5" rx="23.4" ry="62.4" fill="url(#gW)" opacity="0.200" transform="rotate(32.0 14.8 103.5)"/><ellipse cx="46.4" cy="39.3" rx="14.0" ry="36.4" fill="url(#gW)" opacity="0.080" transform="rotate(19.0 46.4 39.3)"/><ellipse cx="48.4" cy="73.4" rx="14.3" ry="33.8" fill="url(#gW)" opacity="0.120" transform="rotate(23.0 48.4 73.4)"/><ellipse cx="44.1" cy="72.1" rx="2.0" ry="31.2" fill="url(#gW)" opacity="0.100" transform="rotate(17.0 44.1 72.1)"/><ellipse cx="46.5" cy="72.8" rx="2.0" ry="28.1" fill="url(#gW)" opacity="0.088" transform="rotate(19.5 46.5 72.8)"/><ellipse cx="48.9" cy="73.5" rx="2.0" ry="25.0" fill="url(#gW)" opacity="0.076" transform="rotate(22.0 48.9 73.5)"/><ellipse cx="51.3" cy="74.3" rx="2.0" ry="21.8" fill="url(#gW)" opacity="0.064" transform="rotate(24.5 51.3 74.3)"/><ellipse cx="53.7" cy="75.0" rx="2.0" ry="18.7" fill="url(#gW)" opacity="0.052" transform="rotate(27.0 53.7 75.0)"/><ellipse cx="56.1" cy="75.7" rx="2.0" ry="15.6" fill="url(#gW)" opacity="0.040" transform="rotate(29.5 56.1 75.7)"/><ellipse cx="26.4" cy="66.7" rx="2.3" ry="31.2" fill="url(#gW)" opacity="0.050" transform="rotate(17.0 26.4 66.7)"/><ellipse cx="23.1" cy="65.7" rx="2.3" ry="31.2" fill="url(#gW)" opacity="0.050" transform="rotate(17.0 23.1 65.7)"/><ellipse cx="36.0" cy="69.6" rx="22.1" ry="59.8" fill="url(#gW)" opacity="0.270" transform="rotate(17.0 36.0 69.6)"/><ellipse cx="36.0" cy="69.6" rx="13.0" ry="35.1" fill="url(#gW)" opacity="0.360" transform="rotate(17.0 36.0 69.6)"/><ellipse cx="36.0" cy="69.6" rx="7.8" ry="23.4" fill="url(#gW)" opacity="0.300" transform="rotate(17.0 36.0 69.6)"/><ellipse cx="123.5" cy="35.1" rx="23.4" ry="62.4" fill="url(#gW)" opacity="0.200" transform="rotate(32.0 123.5 35.1)"/><ellipse cx="91.9" cy="99.3" rx="14.0" ry="36.4" fill="url(#gW)" opacity="0.080" transform="rotate(19.0 91.9 99.3)"/><ellipse cx="89.9" cy="65.2" rx="14.3" ry="33.8" fill="url(#gW)" opacity="0.120" transform="rotate(23.0 89.9 65.2)"/><ellipse cx="94.2" cy="66.5" rx="2.0" ry="31.2" fill="url(#gW)" opacity="0.100" transform="rotate(17.0 94.2 66.5)"/><ellipse cx="91.8" cy="65.8" rx="2.0" ry="28.1" fill="url(#gW)" opacity="0.088" transform="rotate(19.5 91.8 65.8)"/><ellipse cx="89.4" cy="65.1" rx="2.0" ry="25.0" fill="url(#gW)" opacity="0.076" transform="rotate(22.0 89.4 65.1)"/><ellipse cx="87.0" cy="64.3" rx="2.0" ry="21.8" fill="url(#gW)" opacity="0.064" transform="rotate(24.5 87.0 64.3)"/><ellipse cx="84.6" cy="63.6" rx="2.0" ry="18.7" fill="url(#gW)" opacity="0.052" transform="rotate(27.0 84.6 63.6)"/><ellipse cx="82.2" cy="62.9" rx="2.0" ry="15.6" fill="url(#gW)" opacity="0.040" transform="rotate(29.5 82.2 62.9)"/><ellipse cx="111.9" cy="71.9" rx="2.3" ry="31.2" fill="url(#gW)" opacity="0.050" transform="rotate(17.0 111.9 71.9)"/><ellipse cx="115.2" cy="72.9" rx="2.3" ry="31.2" fill="url(#gW)" opacity="0.050" transform="rotate(17.0 115.2 72.9)"/><ellipse cx="102.3" cy="69.0" rx="22.1" ry="59.8" fill="url(#gW)" opacity="0.270" transform="rotate(17.0 102.3 69.0)"/><ellipse cx="102.3" cy="69.0" rx="13.0" ry="35.1" fill="url(#gW)" opacity="0.360" transform="rotate(17.0 102.3 69.0)"/><ellipse cx="102.3" cy="69.0" rx="7.8" ry="23.4" fill="url(#gW)" opacity="0.300" transform="rotate(17.0 102.3 69.0)"/><ellipse cx="69.3" cy="69.3" rx="13.0" ry="9.4" fill="url(#gK)" opacity="0.500"/><ellipse cx="69.3" cy="69.3" rx="5.2" ry="3.0" fill="#fff" filter="url(#b0_6)"/></g></g>
<clipPath id="cp01"><rect x="175.2" y="261.0" width="138.2" height="138.1"/></clipPath><g clip-path="url(#cp01)"><g transform="translate(175.2 261.0)" filter="url(#cmI)"><rect x="-1" y="-1" width="141" height="141" fill="#b2b2b2"/><ellipse cx="15.0" cy="10.0" rx="78.0" ry="26.0" fill="url(#gW)" opacity="0.060" transform="rotate(-20.0 15.0 10.0)"/><ellipse cx="110.0" cy="110.0" rx="65.0" ry="52.0" fill="url(#gW)" opacity="0.030"/><ellipse cx="68.6" cy="70.9" rx="19.5" ry="14.3" fill="url(#gW)" opacity="0.300"/><g transform="rotate(0.0 68.6 70.9)"><ellipse cx="50.8" cy="70.9" rx="3.9" ry="12.5" fill="url(#gK)" opacity="0.240"/><ellipse cx="46.1" cy="70.9" rx="3.4" ry="12.5" fill="url(#gW)" opacity="0.120"/><ellipse cx="41.6" cy="70.9" rx="3.1" ry="12.5" fill="url(#gK)" opacity="0.090"/><ellipse cx="37.1" cy="70.9" rx="3.1" ry="11.7" fill="url(#gW)" opacity="0.060"/><ellipse cx="32.6" cy="70.9" rx="3.1" ry="11.7" fill="url(#gK)" opacity="0.040"/></g><g transform="rotate(0.0 68.6 70.9)"><ellipse cx="86.4" cy="70.9" rx="3.9" ry="12.5" fill="url(#gK)" opacity="0.240"/><ellipse cx="91.1" cy="70.9" rx="3.4" ry="12.5" fill="url(#gW)" opacity="0.120"/><ellipse cx="95.6" cy="70.9" rx="3.1" ry="12.5" fill="url(#gK)" opacity="0.090"/><ellipse cx="100.1" cy="70.9" rx="3.1" ry="11.7" fill="url(#gW)" opacity="0.060"/><ellipse cx="104.6" cy="70.9" rx="3.1" ry="11.7" fill="url(#gK)" opacity="0.040"/></g><circle cx="68.6" cy="70.9" r="7.8" fill="#000" filter="url(#b1_5)"/><circle cx="68.6" cy="70.9" r="6.6" fill="#000" filter="url(#b1)"/><g transform="rotate(0.0 68.6 70.9)"><path d="M57.6 65.8A12.1 12.1 0 0 0 57.6 76.0" stroke="#fff" stroke-width="5.6" fill="none" stroke-linecap="round" opacity="0.9" filter="url(#b1_5)"/><path d="M57.6 65.8A12.1 12.1 0 0 0 57.6 76.0" stroke="#fff" stroke-width="3.8" fill="none" stroke-linecap="round" filter="url(#b0_6)"/></g><g transform="rotate(0.0 68.6 70.9)"><path d="M79.4 65.4A12.1 12.1 0 0 1 79.4 76.4" stroke="#fff" stroke-width="5.6" fill="none" stroke-linecap="round" opacity="0.9" filter="url(#b1_5)"/><path d="M79.4 65.4A12.1 12.1 0 0 1 79.4 76.4" stroke="#fff" stroke-width="3.8" fill="none" stroke-linecap="round" filter="url(#b0_6)"/></g><circle cx="68.6" cy="70.3" r="3.1" fill="#cccccc" filter="url(#b0_6)"/></g></g>
<clipPath id="cp11"><rect x="175.2" y="404.3" width="138.2" height="137.6"/></clipPath><g clip-path="url(#cp11)"><g transform="translate(175.2 404.3)" filter="url(#cmVn)"><rect x="-1" y="-1" width="141" height="141" fill="#0a0a0a"/><ellipse cx="69.7" cy="69.0" rx="88.4" ry="72.8" fill="url(#gW)" opacity="0.120"/><ellipse cx="69.7" cy="69.0" rx="4.7" ry="104.0" fill="url(#gW)" opacity="0.070"/><path d="M53.7 69.0L15.7 37.0L13.7 101.0Z" fill="#fff" opacity="0.110" filter="url(#b5)"/><path d="M85.7 69.0L123.7 101.0L125.7 37.0Z" fill="#fff" opacity="0.110" filter="url(#b5)"/><ellipse cx="25.7" cy="47.0" rx="13.0" ry="28.6" fill="url(#gW)" opacity="0.080" transform="rotate(-52.0 25.7 47.0)"/><ellipse cx="22.7" cy="96.0" rx="14.3" ry="36.4" fill="url(#gW)" opacity="0.140" transform="rotate(50.0 22.7 96.0)"/><ellipse cx="116.7" cy="40.0" rx="14.3" ry="36.4" fill="url(#gW)" opacity="0.140" transform="rotate(50.0 116.7 40.0)"/><ellipse cx="113.7" cy="91.0" rx="13.0" ry="28.6" fill="url(#gW)" opacity="0.080" transform="rotate(-52.0 113.7 91.0)"/><ellipse cx="31.7" cy="83.0" rx="13.0" ry="20.8" fill="url(#gW)" opacity="0.100" transform="rotate(45.0 31.7 83.0)"/><ellipse cx="107.7" cy="54.0" rx="13.0" ry="20.8" fill="url(#gW)" opacity="0.100" transform="rotate(40.0 107.7 54.0)"/><rect x="27.7" y="56.5" width="30.5" height="25.0" rx="6" fill="#fff" opacity="0.460" filter="url(#b3)"/><rect x="81.2" y="56.5" width="30.5" height="25.0" rx="6" fill="#fff" opacity="0.460" filter="url(#b3)"/><ellipse cx="49.2" cy="68.5" rx="6.2" ry="15.6" fill="url(#gW)" opacity="0.600"/><ellipse cx="36.7" cy="68.0" rx="7.8" ry="16.9" fill="url(#gW)" opacity="0.300"/><ellipse cx="89.2" cy="70.0" rx="6.2" ry="15.6" fill="url(#gW)" opacity="0.550"/><ellipse cx="100.7" cy="70.0" rx="7.8" ry="16.9" fill="url(#gW)" opacity="0.300"/><ellipse cx="69.7" cy="69.0" rx="13.0" ry="10.9" fill="url(#gK)" opacity="0.350"/><rect x="60.2" y="64.2" width="19" height="9.6" fill="#fff"/></g></g>
<clipPath id="cp21"><rect x="175.2" y="547.7" width="138.2" height="137.1"/></clipPath><g clip-path="url(#cp21)"><g transform="translate(175.2 547.7)" filter="url(#cmV)"><rect x="-1" y="-1" width="141" height="141" fill="#080808"/><ellipse cx="69.3" cy="69.3" rx="57.2" ry="88.4" fill="url(#gW)" opacity="0.080"/><ellipse cx="69.3" cy="69.3" rx="13.0" ry="117.0" fill="url(#gW)" opacity="0.050"/><ellipse cx="16.8" cy="97.9" rx="23.4" ry="62.4" fill="url(#gW)" opacity="0.240" transform="rotate(36.0 16.8 97.9)"/><ellipse cx="53.8" cy="36.5" rx="14.0" ry="36.4" fill="url(#gW)" opacity="0.100" transform="rotate(25.0 53.8 36.5)"/><ellipse cx="52.3" cy="70.6" rx="14.3" ry="33.8" fill="url(#gW)" opacity="0.120" transform="rotate(29.0 52.3 70.6)"/><ellipse cx="48.1" cy="68.8" rx="2.0" ry="31.2" fill="url(#gW)" opacity="0.120" transform="rotate(23.0 48.1 68.8)"/><ellipse cx="50.4" cy="69.8" rx="2.0" ry="28.1" fill="url(#gW)" opacity="0.106" transform="rotate(25.5 50.4 69.8)"/><ellipse cx="52.7" cy="70.8" rx="2.0" ry="25.0" fill="url(#gW)" opacity="0.091" transform="rotate(28.0 52.7 70.8)"/><ellipse cx="55.0" cy="71.8" rx="2.0" ry="21.8" fill="url(#gW)" opacity="0.077" transform="rotate(30.5 55.0 71.8)"/><ellipse cx="57.3" cy="72.7" rx="2.0" ry="18.7" fill="url(#gW)" opacity="0.062" transform="rotate(33.0 57.3 72.7)"/><ellipse cx="59.6" cy="73.7" rx="2.0" ry="15.6" fill="url(#gW)" opacity="0.048" transform="rotate(35.5 59.6 73.7)"/><ellipse cx="31.1" cy="61.6" rx="2.3" ry="31.2" fill="url(#gW)" opacity="0.060" transform="rotate(23.0 31.1 61.6)"/><ellipse cx="27.9" cy="60.2" rx="2.3" ry="31.2" fill="url(#gW)" opacity="0.060" transform="rotate(23.0 27.9 60.2)"/><ellipse cx="40.3" cy="65.5" rx="19.5" ry="57.2" fill="url(#gW)" opacity="0.300" transform="rotate(23.0 40.3 65.5)"/><ellipse cx="40.3" cy="65.5" rx="11.4" ry="33.8" fill="url(#gW)" opacity="0.480" transform="rotate(23.0 40.3 65.5)"/><ellipse cx="40.3" cy="65.5" rx="7.3" ry="23.4" fill="url(#gW)" opacity="0.550" transform="rotate(23.0 40.3 65.5)"/><ellipse cx="40.3" cy="65.5" rx="4.4" ry="15.6" fill="url(#gWp)" opacity="0.800" transform="rotate(23.0 40.3 65.5)"/><ellipse cx="123.1" cy="38.8" rx="23.4" ry="62.4" fill="url(#gW)" opacity="0.240" transform="rotate(36.0 123.1 38.8)"/><ellipse cx="86.1" cy="100.2" rx="14.0" ry="36.4" fill="url(#gW)" opacity="0.100" transform="rotate(25.0 86.1 100.2)"/><ellipse cx="87.6" cy="66.1" rx="14.3" ry="33.8" fill="url(#gW)" opacity="0.120" transform="rotate(29.0 87.6 66.1)"/><ellipse cx="91.8" cy="67.9" rx="2.0" ry="31.2" fill="url(#gW)" opacity="0.120" transform="rotate(23.0 91.8 67.9)"/><ellipse cx="89.5" cy="66.9" rx="2.0" ry="28.1" fill="url(#gW)" opacity="0.106" transform="rotate(25.5 89.5 66.9)"/><ellipse cx="87.2" cy="65.9" rx="2.0" ry="25.0" fill="url(#gW)" opacity="0.091" transform="rotate(28.0 87.2 65.9)"/><ellipse cx="84.9" cy="64.9" rx="2.0" ry="21.8" fill="url(#gW)" opacity="0.077" transform="rotate(30.5 84.9 64.9)"/><ellipse cx="82.6" cy="64.0" rx="2.0" ry="18.7" fill="url(#gW)" opacity="0.062" transform="rotate(33.0 82.6 64.0)"/><ellipse cx="80.3" cy="63.0" rx="2.0" ry="15.6" fill="url(#gW)" opacity="0.048" transform="rotate(35.5 80.3 63.0)"/><ellipse cx="108.8" cy="75.1" rx="2.3" ry="31.2" fill="url(#gW)" opacity="0.060" transform="rotate(23.0 108.8 75.1)"/><ellipse cx="112.0" cy="76.5" rx="2.3" ry="31.2" fill="url(#gW)" opacity="0.060" transform="rotate(23.0 112.0 76.5)"/><ellipse cx="99.6" cy="71.2" rx="19.5" ry="57.2" fill="url(#gW)" opacity="0.300" transform="rotate(23.0 99.6 71.2)"/><ellipse cx="99.6" cy="71.2" rx="11.4" ry="33.8" fill="url(#gW)" opacity="0.480" transform="rotate(23.0 99.6 71.2)"/><ellipse cx="99.6" cy="71.2" rx="7.3" ry="23.4" fill="url(#gW)" opacity="0.550" transform="rotate(23.0 99.6 71.2)"/><ellipse cx="99.6" cy="71.2" rx="4.4" ry="15.6" fill="url(#gWp)" opacity="0.800" transform="rotate(23.0 99.6 71.2)"/><ellipse cx="69.3" cy="69.3" rx="13.0" ry="9.4" fill="url(#gK)" opacity="0.500"/><ellipse cx="69.3" cy="69.3" rx="5.2" ry="3.0" fill="#fff" filter="url(#b0_6)"/></g></g>
<clipPath id="cp02"><rect x="333.8" y="261.0" width="138.2" height="138.1"/></clipPath><g clip-path="url(#cp02)"><g transform="translate(333.8 261.0)" filter="url(#cmI)"><rect x="-1" y="-1" width="141" height="141" fill="#afafaf"/><ellipse cx="120.0" cy="30.0" rx="65.0" ry="41.6" fill="url(#gW)" opacity="0.030"/><ellipse cx="20.0" cy="110.0" rx="65.0" ry="41.6" fill="url(#gK)" opacity="0.030"/><ellipse cx="68.0" cy="70.9" rx="19.5" ry="14.3" fill="url(#gW)" opacity="0.300"/><g transform="rotate(0.0 68.0 70.9)"><ellipse cx="50.2" cy="70.9" rx="3.9" ry="12.5" fill="url(#gK)" opacity="0.240"/><ellipse cx="45.5" cy="70.9" rx="3.4" ry="12.5" fill="url(#gW)" opacity="0.120"/><ellipse cx="41.0" cy="70.9" rx="3.1" ry="12.5" fill="url(#gK)" opacity="0.090"/><ellipse cx="36.5" cy="70.9" rx="3.1" ry="11.7" fill="url(#gW)" opacity="0.060"/><ellipse cx="32.0" cy="70.9" rx="3.1" ry="11.7" fill="url(#gK)" opacity="0.040"/></g><g transform="rotate(-4.0 68.0 70.9)"><ellipse cx="85.8" cy="70.9" rx="3.9" ry="12.5" fill="url(#gK)" opacity="0.240"/><ellipse cx="90.5" cy="70.9" rx="3.4" ry="12.5" fill="url(#gW)" opacity="0.120"/><ellipse cx="95.0" cy="70.9" rx="3.1" ry="12.5" fill="url(#gK)" opacity="0.090"/><ellipse cx="99.5" cy="70.9" rx="3.1" ry="11.7" fill="url(#gW)" opacity="0.060"/><ellipse cx="104.0" cy="70.9" rx="3.1" ry="11.7" fill="url(#gK)" opacity="0.040"/></g><circle cx="68.0" cy="70.9" r="7.8" fill="#000" filter="url(#b1_5)"/><circle cx="68.0" cy="70.9" r="6.6" fill="#000" filter="url(#b1)"/><g transform="rotate(0.0 68.0 70.9)"><path d="M56.9 65.5A12.3 12.3 0 0 0 56.9 76.3" stroke="#fff" stroke-width="5.6" fill="none" stroke-linecap="round" opacity="0.9" filter="url(#b1_5)"/><path d="M56.9 65.5A12.3 12.3 0 0 0 56.9 76.3" stroke="#fff" stroke-width="3.8" fill="none" stroke-linecap="round" filter="url(#b0_6)"/></g><g transform="rotate(-4.0 68.0 70.9)"><path d="M78.9 65.4A12.2 12.2 0 0 1 78.9 76.4" stroke="#fff" stroke-width="5.6" fill="none" stroke-linecap="round" opacity="0.9" filter="url(#b1_5)"/><path d="M78.9 65.4A12.2 12.2 0 0 1 78.9 76.4" stroke="#fff" stroke-width="3.8" fill="none" stroke-linecap="round" filter="url(#b0_6)"/></g><circle cx="68.0" cy="70.3" r="3.1" fill="#c4c4c4" filter="url(#b0_6)"/></g></g>
<clipPath id="cp12"><rect x="333.8" y="404.3" width="138.2" height="137.6"/></clipPath><g clip-path="url(#cp12)"><g transform="translate(333.8 404.3)" filter="url(#cmVn)"><rect x="-1" y="-1" width="141" height="141" fill="#0a0a0a"/><ellipse cx="69.7" cy="69.0" rx="88.4" ry="72.8" fill="url(#gW)" opacity="0.120"/><ellipse cx="69.7" cy="69.0" rx="4.7" ry="104.0" fill="url(#gW)" opacity="0.070"/><path d="M53.7 69.0L15.7 39.0L13.7 99.0Z" fill="#fff" opacity="0.100" filter="url(#b5)"/><path d="M85.7 69.0L123.7 99.0L125.7 39.0Z" fill="#fff" opacity="0.100" filter="url(#b5)"/><ellipse cx="27.7" cy="49.0" rx="13.0" ry="26.0" fill="url(#gW)" opacity="0.060" transform="rotate(-52.0 27.7 49.0)"/><ellipse cx="22.7" cy="96.0" rx="14.3" ry="39.0" fill="url(#gW)" opacity="0.160" transform="rotate(47.0 22.7 96.0)"/><ellipse cx="116.7" cy="40.0" rx="14.3" ry="39.0" fill="url(#gW)" opacity="0.160" transform="rotate(47.0 116.7 40.0)"/><ellipse cx="111.7" cy="89.0" rx="13.0" ry="26.0" fill="url(#gW)" opacity="0.060" transform="rotate(-52.0 111.7 89.0)"/><ellipse cx="31.7" cy="83.0" rx="13.0" ry="20.8" fill="url(#gW)" opacity="0.180" transform="rotate(45.0 31.7 83.0)"/><ellipse cx="107.7" cy="54.0" rx="13.0" ry="20.8" fill="url(#gW)" opacity="0.180" transform="rotate(40.0 107.7 54.0)"/><rect x="28.7" y="56.0" width="29.5" height="24.5" rx="10" fill="#fff" opacity="0.520" filter="url(#b3)"/><rect x="81.2" y="58.0" width="29.5" height="24.5" rx="10" fill="#fff" opacity="0.520" filter="url(#b3)"/><ellipse cx="40.2" cy="65.5" rx="13.5" ry="14.6" fill="url(#gW)" opacity="0.850"/><ellipse cx="49.2" cy="70.0" rx="9.4" ry="13.0" fill="url(#gW)" opacity="0.750"/><ellipse cx="90.2" cy="71.5" rx="10.4" ry="13.0" fill="url(#gW)" opacity="0.750"/><ellipse cx="100.2" cy="69.5" rx="12.0" ry="15.6" fill="url(#gW)" opacity="0.800"/><ellipse cx="69.7" cy="69.0" rx="13.0" ry="10.9" fill="url(#gK)" opacity="0.350"/><rect x="60.2" y="64.2" width="19" height="9.6" fill="#fff"/></g></g>
<clipPath id="cp22"><rect x="333.8" y="547.7" width="138.2" height="137.1"/></clipPath><g clip-path="url(#cp22)"><g transform="translate(333.8 547.7)" filter="url(#cmV)"><rect x="-1" y="-1" width="141" height="141" fill="#080808"/><ellipse cx="69.3" cy="69.3" rx="57.2" ry="88.4" fill="url(#gW)" opacity="0.080"/><ellipse cx="69.3" cy="69.3" rx="13.0" ry="117.0" fill="url(#gW)" opacity="0.050"/><ellipse cx="9.0" cy="69.0" rx="13.0" ry="104.0" fill="url(#gW)" opacity="0.100"/><ellipse cx="130.0" cy="69.0" rx="13.0" ry="104.0" fill="url(#gW)" opacity="0.100"/><ellipse cx="27.5" cy="95.2" rx="20.8" ry="62.4" fill="url(#gW)" opacity="0.120" transform="rotate(28.0 27.5 95.2)"/><ellipse cx="56.5" cy="41.3" rx="12.5" ry="36.4" fill="url(#gW)" opacity="0.070" transform="rotate(28.5 56.5 41.3)"/><ellipse cx="55.1" cy="71.0" rx="14.3" ry="33.8" fill="url(#gW)" opacity="0.120" transform="rotate(32.5 55.1 71.0)"/><ellipse cx="51.1" cy="69.0" rx="2.0" ry="31.2" fill="url(#gW)" opacity="0.120" transform="rotate(26.5 51.1 69.0)"/><ellipse cx="53.3" cy="70.1" rx="2.0" ry="28.1" fill="url(#gW)" opacity="0.106" transform="rotate(29.0 53.3 70.1)"/><ellipse cx="55.6" cy="71.2" rx="2.0" ry="25.0" fill="url(#gW)" opacity="0.091" transform="rotate(31.5 55.6 71.2)"/><ellipse cx="57.8" cy="72.3" rx="2.0" ry="21.8" fill="url(#gW)" opacity="0.077" transform="rotate(34.0 57.8 72.3)"/><ellipse cx="60.1" cy="73.5" rx="2.0" ry="18.7" fill="url(#gW)" opacity="0.062" transform="rotate(36.5 60.1 73.5)"/><ellipse cx="62.3" cy="74.6" rx="2.0" ry="15.6" fill="url(#gW)" opacity="0.048" transform="rotate(39.0 62.3 74.6)"/><ellipse cx="34.6" cy="60.7" rx="2.3" ry="31.2" fill="url(#gW)" opacity="0.060" transform="rotate(26.5 34.6 60.7)"/><ellipse cx="31.4" cy="59.2" rx="2.3" ry="31.2" fill="url(#gW)" opacity="0.060" transform="rotate(26.5 31.4 59.2)"/><ellipse cx="43.5" cy="65.2" rx="18.2" ry="54.6" fill="url(#gW)" opacity="0.280" transform="rotate(26.5 43.5 65.2)"/><ellipse cx="43.5" cy="65.2" rx="10.9" ry="36.4" fill="url(#gW)" opacity="0.450" transform="rotate(26.5 43.5 65.2)"/><ellipse cx="43.5" cy="65.2" rx="7.3" ry="28.6" fill="url(#gW)" opacity="0.500" transform="rotate(26.5 43.5 65.2)"/><ellipse cx="43.5" cy="65.2" rx="6.2" ry="26.0" fill="url(#gWp)" opacity="1.000" transform="rotate(26.5 43.5 65.2)"/><ellipse cx="114.5" cy="42.2" rx="20.8" ry="62.4" fill="url(#gW)" opacity="0.120" transform="rotate(28.0 114.5 42.2)"/><ellipse cx="85.5" cy="96.1" rx="12.5" ry="36.4" fill="url(#gW)" opacity="0.070" transform="rotate(28.5 85.5 96.1)"/><ellipse cx="86.9" cy="66.4" rx="14.3" ry="33.8" fill="url(#gW)" opacity="0.120" transform="rotate(32.5 86.9 66.4)"/><ellipse cx="90.9" cy="68.4" rx="2.0" ry="31.2" fill="url(#gW)" opacity="0.120" transform="rotate(26.5 90.9 68.4)"/><ellipse cx="88.7" cy="67.3" rx="2.0" ry="28.1" fill="url(#gW)" opacity="0.106" transform="rotate(29.0 88.7 67.3)"/><ellipse cx="86.4" cy="66.2" rx="2.0" ry="25.0" fill="url(#gW)" opacity="0.091" transform="rotate(31.5 86.4 66.2)"/><ellipse cx="84.2" cy="65.1" rx="2.0" ry="21.8" fill="url(#gW)" opacity="0.077" transform="rotate(34.0 84.2 65.1)"/><ellipse cx="81.9" cy="63.9" rx="2.0" ry="18.7" fill="url(#gW)" opacity="0.062" transform="rotate(36.5 81.9 63.9)"/><ellipse cx="79.7" cy="62.8" rx="2.0" ry="15.6" fill="url(#gW)" opacity="0.048" transform="rotate(39.0 79.7 62.8)"/><ellipse cx="107.4" cy="76.7" rx="2.3" ry="31.2" fill="url(#gW)" opacity="0.060" transform="rotate(26.5 107.4 76.7)"/><ellipse cx="110.6" cy="78.2" rx="2.3" ry="31.2" fill="url(#gW)" opacity="0.060" transform="rotate(26.5 110.6 78.2)"/><ellipse cx="98.5" cy="72.2" rx="18.2" ry="54.6" fill="url(#gW)" opacity="0.280" transform="rotate(26.5 98.5 72.2)"/><ellipse cx="98.5" cy="72.2" rx="10.9" ry="36.4" fill="url(#gW)" opacity="0.450" transform="rotate(26.5 98.5 72.2)"/><ellipse cx="98.5" cy="72.2" rx="7.3" ry="28.6" fill="url(#gW)" opacity="0.500" transform="rotate(26.5 98.5 72.2)"/><ellipse cx="98.5" cy="72.2" rx="6.2" ry="26.0" fill="url(#gWp)" opacity="1.000" transform="rotate(26.5 98.5 72.2)"/><ellipse cx="69.3" cy="69.3" rx="13.0" ry="9.4" fill="url(#gK)" opacity="0.500"/><ellipse cx="69.3" cy="69.3" rx="5.2" ry="3.0" fill="#fff" filter="url(#b0_6)"/></g></g>
<clipPath id="cp03"><rect x="490.1" y="261.0" width="138.3" height="138.1"/></clipPath><g clip-path="url(#cp03)"><g transform="translate(490.1 261.0)" filter="url(#cmI)"><rect x="-1" y="-1" width="141" height="141" fill="#a7a7a7"/><ellipse cx="25.0" cy="25.0" rx="93.6" ry="62.4" fill="url(#gK)" opacity="0.090" transform="rotate(-30.0 25.0 25.0)"/><ellipse cx="139.0" cy="139.0" rx="104.0" ry="57.2" fill="url(#gW)" opacity="0.420" transform="rotate(-40.0 139.0 139.0)"/><ellipse cx="100.0" cy="100.0" rx="104.0" ry="78.0" fill="url(#gW)" opacity="0.060"/><ellipse cx="100.0" cy="20.0" rx="52.0" ry="31.2" fill="url(#gW)" opacity="0.040"/><ellipse cx="68.7" cy="70.4" rx="19.5" ry="14.3" fill="url(#gW)" opacity="0.300"/><g transform="rotate(0.0 68.7 70.4)"><ellipse cx="50.9" cy="70.4" rx="3.9" ry="12.5" fill="url(#gK)" opacity="0.240"/><ellipse cx="46.2" cy="70.4" rx="3.4" ry="12.5" fill="url(#gW)" opacity="0.120"/><ellipse cx="41.7" cy="70.4" rx="3.1" ry="12.5" fill="url(#gK)" opacity="0.090"/><ellipse cx="37.2" cy="70.4" rx="3.1" ry="11.7" fill="url(#gW)" opacity="0.060"/><ellipse cx="32.7" cy="70.4" rx="3.1" ry="11.7" fill="url(#gK)" opacity="0.040"/></g><g transform="rotate(-14.0 68.7 70.4)"><ellipse cx="86.5" cy="70.4" rx="3.9" ry="12.5" fill="url(#gK)" opacity="0.240"/><ellipse cx="91.2" cy="70.4" rx="3.4" ry="12.5" fill="url(#gW)" opacity="0.120"/><ellipse cx="95.7" cy="70.4" rx="3.1" ry="12.5" fill="url(#gK)" opacity="0.090"/><ellipse cx="100.2" cy="70.4" rx="3.1" ry="11.7" fill="url(#gW)" opacity="0.060"/><ellipse cx="104.7" cy="70.4" rx="3.1" ry="11.7" fill="url(#gK)" opacity="0.040"/></g><circle cx="68.7" cy="70.4" r="7.8" fill="#000" filter="url(#b1_5)"/><circle cx="68.7" cy="70.4" r="6.6" fill="#000" filter="url(#b1)"/><g transform="rotate(0.0 68.7 70.4)"><path d="M57.6 65.5A12.1 12.1 0 0 0 57.6 75.3" stroke="#fff" stroke-width="5.6" fill="none" stroke-linecap="round" opacity="0.9" filter="url(#b1_5)"/><path d="M57.6 65.5A12.1 12.1 0 0 0 57.6 75.3" stroke="#fff" stroke-width="3.8" fill="none" stroke-linecap="round" filter="url(#b0_6)"/></g><g transform="rotate(-14.0 68.7 70.4)"><path d="M79.0 65.1A11.6 11.6 0 0 1 79.0 75.7" stroke="#fff" stroke-width="5.6" fill="none" stroke-linecap="round" opacity="0.9" filter="url(#b1_5)"/><path d="M79.0 65.1A11.6 11.6 0 0 1 79.0 75.7" stroke="#fff" stroke-width="3.8" fill="none" stroke-linecap="round" filter="url(#b0_6)"/></g><circle cx="68.7" cy="69.8" r="3.1" fill="#adadad" filter="url(#b0_6)"/></g></g>
<clipPath id="cp13"><rect x="490.1" y="404.3" width="138.3" height="137.6"/></clipPath><g clip-path="url(#cp13)"><g transform="translate(490.1 404.3)" filter="url(#cmVn)"><rect x="-1" y="-1" width="141" height="141" fill="#0a0a0a"/><ellipse cx="69.7" cy="69.0" rx="88.4" ry="72.8" fill="url(#gW)" opacity="0.120"/><ellipse cx="69.7" cy="69.0" rx="4.7" ry="104.0" fill="url(#gW)" opacity="0.070"/><path d="M53.7 69.0L15.7 43.0L13.7 95.0Z" fill="#fff" opacity="0.080" filter="url(#b5)"/><path d="M85.7 69.0L123.7 95.0L125.7 43.0Z" fill="#fff" opacity="0.080" filter="url(#b5)"/><ellipse cx="29.7" cy="51.0" rx="13.0" ry="23.4" fill="url(#gW)" opacity="0.050" transform="rotate(-52.0 29.7 51.0)"/><ellipse cx="24.2" cy="92.0" rx="14.3" ry="33.8" fill="url(#gW)" opacity="0.200" transform="rotate(43.0 24.2 92.0)"/><ellipse cx="116.7" cy="44.0" rx="14.3" ry="33.8" fill="url(#gW)" opacity="0.200" transform="rotate(32.0 116.7 44.0)"/><ellipse cx="109.7" cy="87.0" rx="13.0" ry="23.4" fill="url(#gW)" opacity="0.050" transform="rotate(-52.0 109.7 87.0)"/><ellipse cx="31.7" cy="83.0" rx="13.0" ry="20.8" fill="url(#gW)" opacity="0.240" transform="rotate(45.0 31.7 83.0)"/><ellipse cx="107.7" cy="54.0" rx="13.0" ry="20.8" fill="url(#gW)" opacity="0.240" transform="rotate(40.0 107.7 54.0)"/><rect x="29.7" y="55.5" width="28.5" height="24.5" rx="10" fill="#fff" opacity="0.540" filter="url(#b3)"/><rect x="81.2" y="59.0" width="28.5" height="24.5" rx="10" fill="#fff" opacity="0.540" filter="url(#b3)"/><ellipse cx="41.2" cy="64.5" rx="13.0" ry="15.6" fill="url(#gW)" opacity="1.000"/><ellipse cx="50.2" cy="69.0" rx="9.4" ry="13.0" fill="url(#gW)" opacity="0.700"/><ellipse cx="96.7" cy="73.5" rx="13.5" ry="15.6" fill="url(#gW)" opacity="1.000"/><ellipse cx="88.2" cy="69.0" rx="9.4" ry="13.0" fill="url(#gW)" opacity="0.700"/><ellipse cx="69.7" cy="69.0" rx="13.0" ry="10.9" fill="url(#gK)" opacity="0.350"/><rect x="60.2" y="64.2" width="19" height="9.6" fill="#fff"/></g></g>
<clipPath id="cp23"><rect x="490.1" y="547.7" width="138.3" height="137.1"/></clipPath><g clip-path="url(#cp23)"><g transform="translate(490.1 547.7)" filter="url(#cmV)"><rect x="-1" y="-1" width="141" height="141" fill="#080808"/><ellipse cx="69.3" cy="69.3" rx="57.2" ry="88.4" fill="url(#gW)" opacity="0.080"/><ellipse cx="69.3" cy="69.3" rx="13.0" ry="117.0" fill="url(#gW)" opacity="0.050"/><ellipse cx="9.0" cy="69.0" rx="13.0" ry="104.0" fill="url(#gW)" opacity="0.100"/><ellipse cx="130.0" cy="69.0" rx="13.0" ry="104.0" fill="url(#gW)" opacity="0.100"/><ellipse cx="31.3" cy="92.6" rx="20.8" ry="62.4" fill="url(#gW)" opacity="0.070" transform="rotate(26.0 31.3 92.6)"/><ellipse cx="56.5" cy="44.8" rx="12.5" ry="36.4" fill="url(#gW)" opacity="0.060" transform="rotate(30.0 56.5 44.8)"/><ellipse cx="56.0" cy="71.7" rx="14.3" ry="33.8" fill="url(#gW)" opacity="0.120" transform="rotate(34.0 56.0 71.7)"/><ellipse cx="52.0" cy="69.6" rx="2.0" ry="31.2" fill="url(#gW)" opacity="0.120" transform="rotate(28.0 52.0 69.6)"/><ellipse cx="54.2" cy="70.8" rx="2.0" ry="28.1" fill="url(#gW)" opacity="0.106" transform="rotate(30.5 54.2 70.8)"/><ellipse cx="56.4" cy="71.9" rx="2.0" ry="25.0" fill="url(#gW)" opacity="0.091" transform="rotate(33.0 56.4 71.9)"/><ellipse cx="58.6" cy="73.1" rx="2.0" ry="21.8" fill="url(#gW)" opacity="0.077" transform="rotate(35.5 58.6 73.1)"/><ellipse cx="60.8" cy="74.3" rx="2.0" ry="18.7" fill="url(#gW)" opacity="0.062" transform="rotate(38.0 60.8 74.3)"/><ellipse cx="63.0" cy="75.5" rx="2.0" ry="15.6" fill="url(#gW)" opacity="0.048" transform="rotate(40.5 63.0 75.5)"/><ellipse cx="35.7" cy="60.9" rx="2.3" ry="31.2" fill="url(#gW)" opacity="0.060" transform="rotate(28.0 35.7 60.9)"/><ellipse cx="32.6" cy="59.3" rx="2.3" ry="31.2" fill="url(#gW)" opacity="0.060" transform="rotate(28.0 32.6 59.3)"/><ellipse cx="44.5" cy="65.6" rx="17.7" ry="54.6" fill="url(#gW)" opacity="0.280" transform="rotate(28.0 44.5 65.6)"/><ellipse cx="44.5" cy="65.6" rx="10.9" ry="39.0" fill="url(#gW)" opacity="0.450" transform="rotate(28.0 44.5 65.6)"/><ellipse cx="44.5" cy="65.6" rx="7.3" ry="31.2" fill="url(#gW)" opacity="0.500" transform="rotate(28.0 44.5 65.6)"/><ellipse cx="44.5" cy="65.6" rx="6.2" ry="28.1" fill="url(#gWp)" opacity="1.000" transform="rotate(28.0 44.5 65.6)"/><ellipse cx="108.2" cy="45.0" rx="20.8" ry="62.4" fill="url(#gW)" opacity="0.070" transform="rotate(26.0 108.2 45.0)"/><ellipse cx="83.0" cy="92.8" rx="12.5" ry="36.4" fill="url(#gW)" opacity="0.060" transform="rotate(30.0 83.0 92.8)"/><ellipse cx="83.5" cy="65.9" rx="14.3" ry="33.8" fill="url(#gW)" opacity="0.120" transform="rotate(34.0 83.5 65.9)"/><ellipse cx="87.5" cy="68.0" rx="2.0" ry="31.2" fill="url(#gW)" opacity="0.120" transform="rotate(28.0 87.5 68.0)"/><ellipse cx="85.3" cy="66.8" rx="2.0" ry="28.1" fill="url(#gW)" opacity="0.106" transform="rotate(30.5 85.3 66.8)"/><ellipse cx="83.1" cy="65.7" rx="2.0" ry="25.0" fill="url(#gW)" opacity="0.091" transform="rotate(33.0 83.1 65.7)"/><ellipse cx="80.9" cy="64.5" rx="2.0" ry="21.8" fill="url(#gW)" opacity="0.077" transform="rotate(35.5 80.9 64.5)"/><ellipse cx="78.7" cy="63.3" rx="2.0" ry="18.7" fill="url(#gW)" opacity="0.062" transform="rotate(38.0 78.7 63.3)"/><ellipse cx="76.5" cy="62.1" rx="2.0" ry="15.6" fill="url(#gW)" opacity="0.048" transform="rotate(40.5 76.5 62.1)"/><ellipse cx="103.8" cy="76.7" rx="2.3" ry="31.2" fill="url(#gW)" opacity="0.060" transform="rotate(28.0 103.8 76.7)"/><ellipse cx="106.9" cy="78.3" rx="2.3" ry="31.2" fill="url(#gW)" opacity="0.060" transform="rotate(28.0 106.9 78.3)"/><ellipse cx="95.0" cy="72.0" rx="17.7" ry="54.6" fill="url(#gW)" opacity="0.280" transform="rotate(28.0 95.0 72.0)"/><ellipse cx="95.0" cy="72.0" rx="10.9" ry="39.0" fill="url(#gW)" opacity="0.450" transform="rotate(28.0 95.0 72.0)"/><ellipse cx="95.0" cy="72.0" rx="7.3" ry="31.2" fill="url(#gW)" opacity="0.500" transform="rotate(28.0 95.0 72.0)"/><ellipse cx="95.0" cy="72.0" rx="6.2" ry="28.1" fill="url(#gWp)" opacity="1.000" transform="rotate(28.0 95.0 72.0)"/><ellipse cx="69.3" cy="69.3" rx="13.0" ry="9.4" fill="url(#gK)" opacity="0.500"/><ellipse cx="69.3" cy="69.3" rx="6.2" ry="2.5" fill="#fff" filter="url(#b0_6)"/></g></g>
<clipPath id="cp04"><rect x="649.0" y="261.0" width="138.2" height="138.1"/></clipPath><g clip-path="url(#cp04)"><g transform="translate(649.0 261.0)" filter="url(#cmI)"><rect x="-1" y="-1" width="141" height="141" fill="#a3a3a3"/><ellipse cx="139.0" cy="139.0" rx="78.0" ry="36.4" fill="url(#gW)" opacity="0.280" transform="rotate(-40.0 139.0 139.0)"/><ellipse cx="30.0" cy="100.0" rx="65.0" ry="52.0" fill="url(#gK)" opacity="0.030"/><ellipse cx="30.0" cy="10.0" rx="78.0" ry="26.0" fill="url(#gW)" opacity="0.040"/><ellipse cx="67.8" cy="69.4" rx="19.5" ry="14.3" fill="url(#gW)" opacity="0.300"/><g transform="rotate(-4.0 67.8 69.4)"><ellipse cx="50.0" cy="69.4" rx="3.9" ry="12.5" fill="url(#gK)" opacity="0.240"/><ellipse cx="45.3" cy="69.4" rx="3.4" ry="12.5" fill="url(#gW)" opacity="0.120"/><ellipse cx="40.8" cy="69.4" rx="3.1" ry="12.5" fill="url(#gK)" opacity="0.090"/><ellipse cx="36.3" cy="69.4" rx="3.1" ry="11.7" fill="url(#gW)" opacity="0.060"/><ellipse cx="31.8" cy="69.4" rx="3.1" ry="11.7" fill="url(#gK)" opacity="0.040"/></g><g transform="rotate(-10.0 67.8 69.4)"><ellipse cx="85.6" cy="69.4" rx="3.9" ry="12.5" fill="url(#gK)" opacity="0.240"/><ellipse cx="90.3" cy="69.4" rx="3.4" ry="12.5" fill="url(#gW)" opacity="0.120"/><ellipse cx="94.8" cy="69.4" rx="3.1" ry="12.5" fill="url(#gK)" opacity="0.090"/><ellipse cx="99.3" cy="69.4" rx="3.1" ry="11.7" fill="url(#gW)" opacity="0.060"/><ellipse cx="103.8" cy="69.4" rx="3.1" ry="11.7" fill="url(#gK)" opacity="0.040"/></g><circle cx="67.8" cy="69.4" r="7.8" fill="#000" filter="url(#b1_5)"/><circle cx="67.8" cy="69.4" r="6.6" fill="#000" filter="url(#b1)"/><g transform="rotate(-4.0 67.8 69.4)"><path d="M56.4 65.3A12.1 12.1 0 0 0 56.4 73.5" stroke="#fff" stroke-width="5.6" fill="none" stroke-linecap="round" opacity="0.9" filter="url(#b1_5)"/><path d="M56.4 65.3A12.1 12.1 0 0 0 56.4 73.5" stroke="#fff" stroke-width="3.8" fill="none" stroke-linecap="round" filter="url(#b0_6)"/></g><g transform="rotate(-10.0 67.8 69.4)"><path d="M78.9 64.5A12.1 12.1 0 0 1 78.9 74.3" stroke="#fff" stroke-width="5.6" fill="none" stroke-linecap="round" opacity="0.9" filter="url(#b1_5)"/><path d="M78.9 64.5A12.1 12.1 0 0 1 78.9 74.3" stroke="#fff" stroke-width="3.8" fill="none" stroke-linecap="round" filter="url(#b0_6)"/></g><circle cx="67.8" cy="68.8" r="3.1" fill="#a3a3a3" filter="url(#b0_6)"/></g></g>
<clipPath id="cp14"><rect x="649.0" y="404.3" width="138.2" height="137.6"/></clipPath><g clip-path="url(#cp14)"><g transform="translate(649.0 404.3)" filter="url(#cmVn)"><rect x="-1" y="-1" width="141" height="141" fill="#0a0a0a"/><ellipse cx="69.7" cy="69.0" rx="88.4" ry="72.8" fill="url(#gW)" opacity="0.120"/><ellipse cx="69.7" cy="69.0" rx="4.7" ry="104.0" fill="url(#gW)" opacity="0.070"/><path d="M53.7 69.0L15.7 43.0L13.7 95.0Z" fill="#fff" opacity="0.080" filter="url(#b5)"/><path d="M85.7 69.0L123.7 95.0L125.7 43.0Z" fill="#fff" opacity="0.080" filter="url(#b5)"/><ellipse cx="29.7" cy="51.0" rx="13.0" ry="23.4" fill="url(#gW)" opacity="0.050" transform="rotate(-52.0 29.7 51.0)"/><ellipse cx="25.7" cy="92.0" rx="14.3" ry="33.8" fill="url(#gW)" opacity="0.180" transform="rotate(43.0 25.7 92.0)"/><ellipse cx="115.7" cy="45.0" rx="14.3" ry="33.8" fill="url(#gW)" opacity="0.180" transform="rotate(35.0 115.7 45.0)"/><ellipse cx="109.7" cy="87.0" rx="13.0" ry="23.4" fill="url(#gW)" opacity="0.050" transform="rotate(-52.0 109.7 87.0)"/><ellipse cx="31.7" cy="83.0" rx="13.0" ry="20.8" fill="url(#gW)" opacity="0.240" transform="rotate(45.0 31.7 83.0)"/><ellipse cx="107.7" cy="54.0" rx="13.0" ry="20.8" fill="url(#gW)" opacity="0.240" transform="rotate(40.0 107.7 54.0)"/><rect x="30.7" y="55.0" width="27.5" height="24.5" rx="10" fill="#fff" opacity="0.550" filter="url(#b3)"/><rect x="81.2" y="59.5" width="26.5" height="24.5" rx="10" fill="#fff" opacity="0.550" filter="url(#b3)"/><ellipse cx="44.2" cy="65.0" rx="16.1" ry="16.1" fill="url(#gW)" opacity="1.000"/><ellipse cx="93.7" cy="73.0" rx="16.1" ry="16.1" fill="url(#gW)" opacity="1.000"/><ellipse cx="52.2" cy="67.0" rx="8.3" ry="13.0" fill="url(#gW)" opacity="0.650"/><ellipse cx="98.2" cy="67.5" rx="10.4" ry="13.0" fill="url(#gW)" opacity="0.750"/><ellipse cx="69.7" cy="69.0" rx="13.0" ry="10.9" fill="url(#gK)" opacity="0.350"/><rect x="60.2" y="64.2" width="19" height="9.6" fill="#fff"/></g></g>
<clipPath id="cp24"><rect x="649.0" y="547.7" width="138.2" height="137.1"/></clipPath><g clip-path="url(#cp24)"><g transform="translate(649.0 547.7)" filter="url(#cmV)"><rect x="-1" y="-1" width="141" height="141" fill="#080808"/><ellipse cx="69.3" cy="69.3" rx="57.2" ry="88.4" fill="url(#gW)" opacity="0.080"/><ellipse cx="69.3" cy="69.3" rx="13.0" ry="117.0" fill="url(#gW)" opacity="0.050"/><ellipse cx="9.0" cy="69.0" rx="13.0" ry="104.0" fill="url(#gW)" opacity="0.100"/><ellipse cx="130.0" cy="69.0" rx="13.0" ry="104.0" fill="url(#gW)" opacity="0.100"/><ellipse cx="31.4" cy="93.0" rx="20.8" ry="62.4" fill="url(#gW)" opacity="0.060" transform="rotate(26.0 31.4 93.0)"/><ellipse cx="56.6" cy="45.2" rx="12.5" ry="36.4" fill="url(#gW)" opacity="0.060" transform="rotate(30.0 56.6 45.2)"/><ellipse cx="56.1" cy="72.1" rx="14.3" ry="33.8" fill="url(#gW)" opacity="0.120" transform="rotate(34.0 56.1 72.1)"/><ellipse cx="52.1" cy="70.0" rx="2.0" ry="31.2" fill="url(#gW)" opacity="0.120" transform="rotate(28.0 52.1 70.0)"/><ellipse cx="54.3" cy="71.2" rx="2.0" ry="28.1" fill="url(#gW)" opacity="0.106" transform="rotate(30.5 54.3 71.2)"/><ellipse cx="56.5" cy="72.3" rx="2.0" ry="25.0" fill="url(#gW)" opacity="0.091" transform="rotate(33.0 56.5 72.3)"/><ellipse cx="58.7" cy="73.5" rx="2.0" ry="21.8" fill="url(#gW)" opacity="0.077" transform="rotate(35.5 58.7 73.5)"/><ellipse cx="60.9" cy="74.7" rx="2.0" ry="18.7" fill="url(#gW)" opacity="0.062" transform="rotate(38.0 60.9 74.7)"/><ellipse cx="63.1" cy="75.9" rx="2.0" ry="15.6" fill="url(#gW)" opacity="0.048" transform="rotate(40.5 63.1 75.9)"/><ellipse cx="35.8" cy="61.3" rx="2.3" ry="31.2" fill="url(#gW)" opacity="0.060" transform="rotate(28.0 35.8 61.3)"/><ellipse cx="32.7" cy="59.7" rx="2.3" ry="31.2" fill="url(#gW)" opacity="0.060" transform="rotate(28.0 32.7 59.7)"/><ellipse cx="44.6" cy="66.0" rx="17.7" ry="54.6" fill="url(#gW)" opacity="0.280" transform="rotate(28.0 44.6 66.0)"/><ellipse cx="44.6" cy="66.0" rx="10.9" ry="39.0" fill="url(#gW)" opacity="0.450" transform="rotate(28.0 44.6 66.0)"/><ellipse cx="44.6" cy="66.0" rx="7.3" ry="31.2" fill="url(#gW)" opacity="0.500" transform="rotate(28.0 44.6 66.0)"/><ellipse cx="44.6" cy="66.0" rx="6.2" ry="28.1" fill="url(#gWp)" opacity="1.000" transform="rotate(28.0 44.6 66.0)"/><ellipse cx="107.9" cy="43.7" rx="20.8" ry="62.4" fill="url(#gW)" opacity="0.060" transform="rotate(26.0 107.9 43.7)"/><ellipse cx="82.7" cy="91.5" rx="12.5" ry="36.4" fill="url(#gW)" opacity="0.060" transform="rotate(30.0 82.7 91.5)"/><ellipse cx="83.2" cy="64.6" rx="14.3" ry="33.8" fill="url(#gW)" opacity="0.120" transform="rotate(34.0 83.2 64.6)"/><ellipse cx="87.2" cy="66.7" rx="2.0" ry="31.2" fill="url(#gW)" opacity="0.120" transform="rotate(28.0 87.2 66.7)"/><ellipse cx="85.0" cy="65.5" rx="2.0" ry="28.1" fill="url(#gW)" opacity="0.106" transform="rotate(30.5 85.0 65.5)"/><ellipse cx="82.8" cy="64.4" rx="2.0" ry="25.0" fill="url(#gW)" opacity="0.091" transform="rotate(33.0 82.8 64.4)"/><ellipse cx="80.6" cy="63.2" rx="2.0" ry="21.8" fill="url(#gW)" opacity="0.077" transform="rotate(35.5 80.6 63.2)"/><ellipse cx="78.4" cy="62.0" rx="2.0" ry="18.7" fill="url(#gW)" opacity="0.062" transform="rotate(38.0 78.4 62.0)"/><ellipse cx="76.2" cy="60.8" rx="2.0" ry="15.6" fill="url(#gW)" opacity="0.048" transform="rotate(40.5 76.2 60.8)"/><ellipse cx="103.5" cy="75.4" rx="2.3" ry="31.2" fill="url(#gW)" opacity="0.060" transform="rotate(28.0 103.5 75.4)"/><ellipse cx="106.6" cy="77.0" rx="2.3" ry="31.2" fill="url(#gW)" opacity="0.060" transform="rotate(28.0 106.6 77.0)"/><ellipse cx="94.7" cy="70.7" rx="17.7" ry="54.6" fill="url(#gW)" opacity="0.280" transform="rotate(28.0 94.7 70.7)"/><ellipse cx="94.7" cy="70.7" rx="10.9" ry="39.0" fill="url(#gW)" opacity="0.450" transform="rotate(28.0 94.7 70.7)"/><ellipse cx="94.7" cy="70.7" rx="7.3" ry="31.2" fill="url(#gW)" opacity="0.500" transform="rotate(28.0 94.7 70.7)"/><ellipse cx="94.7" cy="70.7" rx="6.2" ry="28.1" fill="url(#gWp)" opacity="1.000" transform="rotate(28.0 94.7 70.7)"/><ellipse cx="69.3" cy="69.3" rx="13.0" ry="9.4" fill="url(#gK)" opacity="0.500"/><ellipse cx="69.3" cy="69.3" rx="6.2" ry="2.5" fill="#fff" filter="url(#b0_6)"/></g></g>
<text x="24.6" y="280.2" font-size="11.2" fill="#ffffff" text-anchor="start">Exp.</text>
<text x="24.6" y="423.4" font-size="11.2" fill="#ffffff" text-anchor="start">Exp.</text>
<text x="24.6" y="566.6" font-size="11.2" fill="#ffffff" text-anchor="start">Sim.</text>
<rect x="110.7" y="388.0" width="35.3" height="4.4" fill="#fff"/>
<rect x="110.7" y="531.0" width="35.3" height="4.4" fill="#fff"/>
<rect x="110.7" y="674.2" width="35.3" height="4.4" fill="#fff"/>
<text x="128.4" y="385.6" font-size="11.2" fill="#ffffff" text-anchor="middle">500 nm</text>
<text x="128.2" y="526.4" font-size="11.2" fill="#ffffff" text-anchor="middle">80<tspan font-style="italic">k</tspan><tspan dy="2.4" font-size="6.4">0</tspan></text>
<text x="128.2" y="669.6" font-size="11.2" fill="#ffffff" text-anchor="middle">40<tspan font-style="italic">k</tspan><tspan dy="2.4" font-size="6.4">0</tspan></text>
<path d="M23.6 368V388.4H44" stroke="#0b1d33" stroke-width="1.6" fill="none"/>
<path d="M20.6 371L23.6 365.2L26.6 371Z M41.2 385.4L47 388.4L41.2 391.4Z" fill="#0b1d33"/>
<text x="21.3" y="360.6" font-size="10" font-style="italic" fill="#0b1d33">y</text>
<text x="50.6" y="391.4" font-size="10" font-style="italic" fill="#0b1d33">x</text>
<text x="85.5" y="254.3" font-size="11" fill="#111" text-anchor="middle"><tspan font-style="italic">E</tspan><tspan dy="2.4" font-size="6.4">F</tspan><tspan dy="-2.4"> = 0 eV</tspan></text>
<text x="244.49999999999997" y="254.3" font-size="11" fill="#111" text-anchor="middle"><tspan font-style="italic">E</tspan><tspan dy="2.4" font-size="6.4">F</tspan><tspan dy="-2.4"> = -0.18 eV</tspan></text>
<text x="403.09999999999997" y="254.3" font-size="11" fill="#111" text-anchor="middle"><tspan font-style="italic">E</tspan><tspan dy="2.4" font-size="6.4">F</tspan><tspan dy="-2.4"> = -0.33 eV</tspan></text>
<text x="559.45" y="254.3" font-size="11" fill="#111" text-anchor="middle"><tspan font-style="italic">E</tspan><tspan dy="2.4" font-size="6.4">F</tspan><tspan dy="-2.4"> = -0.43 eV</tspan></text>
<text x="718.3000000000001" y="254.3" font-size="11" fill="#111" text-anchor="middle"><tspan font-style="italic">E</tspan><tspan dy="2.4" font-size="6.4">F</tspan><tspan dy="-2.4"> = -0.51 eV</tspan></text>
<defs>
<linearGradient id="cbI" x1="0" y1="1" x2="0" y2="0"><stop offset="0.00" stop-color="#050810"/><stop offset="0.06" stop-color="#0C1426"/><stop offset="0.15" stop-color="#142242"/><stop offset="0.24" stop-color="#1B2F5E"/><stop offset="0.33" stop-color="#223F7A"/><stop offset="0.42" stop-color="#2A5896"/><stop offset="0.50" stop-color="#2F68A0"/><stop offset="0.57" stop-color="#3474A8"/><stop offset="0.65" stop-color="#3A88B8"/><stop offset="0.73" stop-color="#4A9AC4"/><stop offset="0.81" stop-color="#6FAFD0"/><stop offset="0.88" stop-color="#A9C4DC"/><stop offset="0.94" stop-color="#DAD9E4"/><stop offset="0.97" stop-color="#F0ECF0"/><stop offset="1.00" stop-color="#FFFFFF"/></linearGradient>
<linearGradient id="cbV" x1="0" y1="1" x2="0" y2="0"><stop offset="0.000" stop-color="#440154"/><stop offset="0.062" stop-color="#48186a"/><stop offset="0.125" stop-color="#472d7b"/><stop offset="0.188" stop-color="#424086"/><stop offset="0.250" stop-color="#3b528b"/><stop offset="0.312" stop-color="#33638d"/><stop offset="0.375" stop-color="#2c728e"/><stop offset="0.438" stop-color="#26828e"/><stop offset="0.500" stop-color="#21918c"/><stop offset="0.562" stop-color="#1fa088"/><stop offset="0.625" stop-color="#28ae80"/><stop offset="0.688" stop-color="#3fbc73"/><stop offset="0.750" stop-color="#5ec962"/><stop offset="0.812" stop-color="#84d44b"/><stop offset="0.875" stop-color="#addc30"/><stop offset="0.938" stop-color="#d8e219"/><stop offset="1.000" stop-color="#fde725"/></linearGradient>
</defs>
<rect x="797.8" y="274.2" width="13.4" height="112.5" fill="url(#cbI)"/>
<rect x="797.8" y="414.6" width="13.4" height="113.6" fill="url(#cbV)"/>
<rect x="797.8" y="557.9" width="13.4" height="114.5" fill="url(#cbV)"/>
<text x="797.4" y="268.1" font-size="11" fill="#111">Max.</text>
<text x="797.4" y="412.0" font-size="11" fill="#111">Max.</text>
<text x="797.4" y="554.2" font-size="11" fill="#111">Max.</text>
<text x="797.4" y="396.0" font-size="11" fill="#111">Min.</text>
<text x="797.4" y="539.6" font-size="11" fill="#111">Min.</text>
<text x="797.4" y="682.9" font-size="11" fill="#111">Min.</text>
<text transform="translate(823.6 329.0) rotate(-90)" font-size="11" fill="#111" text-anchor="middle"><tspan font-style="italic">I</tspan><tspan dy="2.4" font-size="6.4" font-style="normal">2</tspan><tspan dy="-2.4"> (arb. units)</tspan></text>
<text transform="translate(823.6 472.2) rotate(-90)" font-size="11" fill="#111" text-anchor="middle">FFT(<tspan font-style="italic">I</tspan><tspan dy="2.4" font-size="6.4" font-style="normal">2</tspan><tspan dy="-2.4">)</tspan></text>
<text transform="translate(823.6 616.4) rotate(-90)" font-size="11" fill="#111" text-anchor="middle">FFT(Re(<tspan font-style="italic">E</tspan><tspan dy="2.4" font-size="6.4" font-style="normal"><tspan font-style="italic">z</tspan></tspan><tspan dy="-2.4">))</tspan></text>
</svg>
</body>
</html>
